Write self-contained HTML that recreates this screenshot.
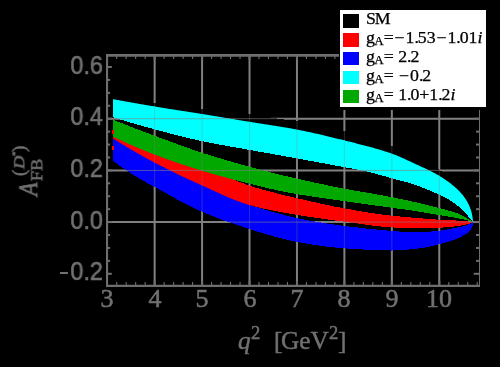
<!DOCTYPE html>
<html><head><meta charset="utf-8"><title>A_FB(D*) vs q^2</title>
<style>
html,body{margin:0;padding:0;background:#000;}
#c{position:relative;width:500px;height:367px;overflow:hidden;background:#000;}
.t{position:absolute;white-space:nowrap;line-height:1;margin:0;padding:0;will-change:transform;}
.yl{font-family:"Liberation Sans",sans-serif;font-size:25px;color:#707070;text-align:right;width:100px;transform:scaleX(0.94);transform-origin:100% 0;-webkit-text-stroke:0.6px #707070;}
.xl{font-family:"Liberation Serif",serif;font-size:26px;color:#707070;text-align:center;width:60px;-webkit-text-stroke:0.55px #707070;}
.ax{font-family:"Liberation Serif",serif;color:#707070;-webkit-text-stroke:0.5px #707070;}
.lg{font-family:"Liberation Serif",serif;font-size:15.7px;color:#000;-webkit-text-stroke:0.25px #000;transform:scaleX(1.135);transform-origin:0 0;}
.lg .d{margin-right:-1px;}
.lg .m{margin:0 0.8px;}
.lg .s{font-size:11.5px;position:relative;top:2.4px;margin-left:-0.6px;}
.sw{position:absolute;left:2.9px;width:16.3px;height:13.6px;}
</style></head><body>
<div id="c">
<svg width="500" height="367" viewBox="0 0 500 367" style="position:absolute;left:0;top:0">
<rect x="0" y="0" width="500" height="367" fill="#000"/>
<g stroke="#808080" stroke-width="2" fill="none">
<line x1="154.64" y1="55.5" x2="154.64" y2="285.6"/>
<line x1="202.08" y1="55.5" x2="202.08" y2="285.6"/>
<line x1="249.52" y1="55.5" x2="249.52" y2="285.6"/>
<line x1="296.96" y1="55.5" x2="296.96" y2="285.6"/>
<line x1="344.40" y1="55.5" x2="344.40" y2="285.6"/>
<line x1="391.84" y1="55.5" x2="391.84" y2="285.6"/>
<line x1="439.28" y1="55.5" x2="439.28" y2="285.6"/>
<line x1="107.1" y1="222.10" x2="479.7" y2="222.10"/>
<line x1="107.1" y1="170.40" x2="479.7" y2="170.40"/>
<line x1="107.1" y1="118.70" x2="479.7" y2="118.70"/>
</g>
<defs>
<mask id="mc" maskUnits="userSpaceOnUse" x="0" y="0" width="500" height="367"><polygon shape-rendering="crispEdges" fill="#fff" points="113.30,95.20 114.30,95.39 115.30,95.57 116.30,95.75 117.30,95.94 118.30,96.12 119.30,96.31 120.30,96.49 121.30,96.67 122.30,96.85 123.30,97.03 124.30,97.22 125.30,97.40 126.30,97.58 127.30,97.76 128.30,97.94 129.30,98.12 130.30,98.29 131.30,98.47 132.30,98.65 133.30,98.83 134.30,99.01 135.30,99.18 136.30,99.36 137.30,99.53 138.30,99.71 139.30,99.88 140.30,100.06 141.30,100.23 142.30,100.41 143.30,100.58 144.30,100.75 145.30,100.92 146.30,101.10 147.30,101.27 148.30,101.44 149.30,101.61 150.30,101.78 151.30,101.95 152.30,102.11 153.30,102.28 154.30,102.45 155.30,102.62 156.30,102.78 157.30,102.95 158.30,103.11 159.30,103.28 160.30,103.44 161.30,103.60 162.30,103.76 163.30,103.92 164.30,104.08 165.30,104.24 166.30,104.40 167.30,104.56 168.30,104.72 169.30,104.88 170.30,105.04 171.30,105.19 172.30,105.35 173.30,105.51 174.30,105.66 175.30,105.82 176.30,105.97 177.30,106.13 178.30,106.28 179.30,106.44 180.30,106.59 181.30,106.75 182.30,106.90 183.30,107.06 184.30,107.21 185.30,107.37 186.30,107.53 187.30,107.68 188.30,107.84 189.30,107.99 190.30,108.15 191.30,108.30 192.30,108.46 193.30,108.62 194.30,108.77 195.30,108.93 196.30,109.09 197.30,109.25 198.30,109.41 199.30,109.57 200.30,109.73 201.30,109.89 202.30,110.05 203.30,110.21 204.30,110.37 205.30,110.53 206.30,110.70 207.30,110.86 208.30,111.02 209.30,111.18 210.30,111.35 211.30,111.51 212.30,111.68 213.30,111.84 214.30,112.00 215.30,112.17 216.30,112.33 217.30,112.50 218.30,112.66 219.30,112.83 220.30,112.99 221.30,113.16 222.30,113.32 223.30,113.49 224.30,113.65 225.30,113.82 226.30,113.98 227.30,114.15 228.30,114.31 229.30,114.48 230.30,114.64 231.30,114.81 231.95,114.92 232.05,114.93 232.30,114.98 233.30,115.14 234.30,115.31 235.30,115.47 236.30,115.64 237.30,115.80 238.30,115.97 239.30,116.13 240.30,116.30 241.30,116.47 242.30,116.63 243.30,116.80 244.30,116.96 245.30,117.13 246.30,117.29 247.30,117.45 248.30,117.62 249.30,117.78 250.30,117.95 251.30,118.11 252.30,118.27 252.95,118.38 253.05,118.39 253.30,118.43 254.30,118.59 255.30,118.75 256.30,118.91 257.30,119.07 258.30,119.22 259.30,119.38 260.30,119.54 261.30,119.69 262.30,119.85 263.30,120.00 264.30,120.16 265.30,120.31 266.30,120.47 267.30,120.62 268.30,120.78 269.30,120.93 270.30,121.09 271.30,121.25 272.30,121.40 273.30,121.56 274.30,121.72 275.30,121.87 276.30,122.03 277.30,122.19 278.30,122.35 279.30,122.51 280.30,122.68 281.30,122.84 282.30,123.00 283.30,123.17 284.30,123.34 285.30,123.51 286.30,123.68 287.30,123.85 288.30,124.02 289.30,124.19 290.30,124.37 291.30,124.55 292.30,124.73 293.30,124.91 294.30,125.09 295.30,125.28 296.30,125.47 297.30,125.66 298.30,125.85 299.30,126.04 300.30,126.24 301.30,126.44 302.30,126.64 303.30,126.84 304.30,127.05 305.30,127.25 306.30,127.46 307.30,127.67 308.30,127.88 309.30,128.10 310.30,128.31 311.30,128.53 312.30,128.75 313.30,128.97 314.30,129.19 315.30,129.41 316.30,129.64 317.30,129.86 318.30,130.09 319.30,130.32 320.30,130.55 321.30,130.78 322.30,131.01 323.30,131.25 324.30,131.48 325.30,131.72 326.30,131.96 327.30,132.20 328.30,132.43 329.30,132.68 330.30,132.92 331.30,133.16 332.30,133.40 333.30,133.65 334.30,133.89 335.30,134.14 336.30,134.38 337.30,134.63 338.30,134.88 339.30,135.13 340.30,135.37 341.30,135.62 342.30,135.87 343.30,136.12 344.30,136.37 345.30,136.63 346.30,136.88 347.30,137.13 348.30,137.38 349.30,137.62 350.30,137.87 351.30,138.12 352.30,138.37 353.30,138.62 354.30,138.87 355.30,139.12 356.30,139.38 357.30,139.63 358.30,139.88 359.30,140.14 360.30,140.39 361.30,140.65 362.30,140.90 363.30,141.16 364.30,141.42 365.30,141.69 366.30,141.95 367.30,142.22 368.30,142.48 369.30,142.75 370.30,143.03 371.30,143.30 372.30,143.58 373.30,143.86 374.30,144.14 375.30,144.42 376.30,144.71 377.30,145.00 378.30,145.30 379.30,145.60 380.30,145.90 381.30,146.20 382.30,146.51 383.30,146.82 384.30,147.13 385.30,147.45 386.30,147.78 387.30,148.10 388.30,148.43 389.30,148.77 390.30,149.11 391.30,149.46 392.30,149.81 393.30,150.17 394.30,150.54 395.30,150.92 396.30,151.32 397.30,151.73 398.30,152.14 399.30,152.56 400.30,153.00 401.30,153.43 402.30,153.88 403.30,154.33 404.30,154.79 405.30,155.25 406.30,155.71 407.30,156.18 408.30,156.65 409.30,157.12 410.30,157.59 411.30,158.06 412.30,158.54 413.30,159.01 414.30,159.47 415.30,159.94 416.30,160.40 417.30,160.86 418.30,161.32 419.30,161.77 420.30,162.23 421.30,162.68 422.30,163.14 423.30,163.60 424.30,164.06 425.30,164.52 426.30,164.99 427.30,165.46 428.30,165.94 429.30,166.43 430.30,166.92 431.30,167.42 432.30,167.93 433.30,168.45 434.30,168.98 435.30,169.52 436.30,170.08 437.30,170.65 438.30,171.23 439.30,171.82 440.30,172.43 441.30,173.05 442.30,173.68 443.30,174.33 444.30,175.00 445.30,175.68 446.30,176.38 447.30,177.09 448.30,177.82 449.30,178.57 450.30,179.34 451.30,180.12 452.30,180.93 453.30,181.76 454.30,182.60 455.30,183.47 456.30,184.36 457.30,185.28 458.30,186.23 459.30,187.23 460.30,188.28 461.30,189.40 462.30,190.59 463.30,191.86 464.30,193.21 465.00,194.20 465.25,194.56 465.30,194.63 465.50,194.92 465.75,195.30 466.00,195.68 466.25,196.07 466.30,196.15 466.50,196.47 466.75,196.88 467.00,197.30 467.25,197.74 467.30,197.83 467.50,198.19 467.75,198.65 468.00,199.13 468.25,199.62 468.30,199.72 468.50,200.13 468.75,200.66 469.00,201.21 469.25,201.77 469.30,201.89 469.50,202.36 469.75,202.97 470.00,203.59 470.25,204.25 470.30,204.39 470.50,204.95 470.75,205.69 471.00,206.49 471.25,207.35 471.30,207.53 471.50,208.28 471.75,209.30 472.00,210.41 472.25,211.62 472.30,211.88 472.50,213.00 472.75,214.92 473.00,217.18 473.10,218.10 473.10,222.10 473.00,221.97 472.75,221.66 472.50,221.34 472.30,221.09 472.25,221.03 472.00,220.72 471.75,220.41 471.50,220.10 471.30,219.85 471.25,219.79 471.00,219.48 470.75,219.18 470.50,218.87 470.30,218.63 470.25,218.57 470.00,218.27 469.75,217.98 469.50,217.68 469.30,217.45 469.25,217.39 469.00,217.09 468.75,216.80 468.50,216.50 468.30,216.27 468.25,216.21 468.00,215.92 467.75,215.62 467.50,215.33 467.30,215.10 467.25,215.04 467.00,214.76 466.75,214.47 466.50,214.19 466.30,213.96 466.25,213.90 466.00,213.63 465.75,213.35 465.50,213.07 465.30,212.86 465.25,212.80 465.00,212.54 464.30,211.80 463.30,210.80 462.30,209.83 461.30,208.89 460.30,207.98 459.30,207.10 458.30,206.25 457.30,205.44 456.30,204.65 455.30,203.89 454.30,203.16 453.30,202.45 452.30,201.76 451.30,201.11 450.30,200.48 449.30,199.89 448.30,199.31 447.30,198.76 446.30,198.22 445.30,197.70 444.30,197.19 443.30,196.69 442.30,196.21 441.30,195.73 440.30,195.26 439.30,194.79 438.30,194.33 437.30,193.87 436.30,193.41 435.30,192.96 434.30,192.51 433.30,192.06 432.30,191.62 431.30,191.18 430.30,190.74 429.30,190.31 428.30,189.89 427.30,189.47 426.30,189.05 425.30,188.64 424.30,188.24 423.30,187.84 422.30,187.45 421.30,187.06 420.30,186.68 419.30,186.31 418.30,185.95 417.30,185.59 416.30,185.24 415.30,184.90 414.30,184.57 413.30,184.24 412.30,183.93 411.30,183.61 410.30,183.31 409.30,183.01 408.30,182.72 407.30,182.43 406.30,182.15 405.30,181.87 404.30,181.59 403.30,181.32 402.30,181.05 401.30,180.78 400.30,180.52 399.30,180.25 398.30,179.99 397.30,179.72 396.30,179.46 395.30,179.19 394.30,178.92 393.30,178.65 392.30,178.38 391.30,178.11 390.30,177.83 389.30,177.56 388.30,177.28 387.30,177.00 386.30,176.72 385.30,176.44 384.30,176.16 383.30,175.88 382.30,175.60 381.30,175.32 380.30,175.04 379.30,174.76 378.30,174.49 377.30,174.22 376.30,173.94 375.30,173.68 374.30,173.41 373.30,173.15 372.30,172.89 371.30,172.63 370.30,172.38 369.30,172.13 368.30,171.89 367.30,171.65 366.30,171.42 365.30,171.19 364.30,170.97 363.30,170.75 362.30,170.54 361.30,170.33 360.30,170.13 359.30,169.93 358.30,169.74 357.30,169.55 356.30,169.36 355.30,169.18 354.30,168.99 353.30,168.81 352.30,168.63 351.30,168.45 350.30,168.27 349.30,168.09 348.30,167.91 347.30,167.73 346.30,167.55 345.30,167.37 344.30,167.18 343.30,166.99 342.30,166.81 341.30,166.62 340.30,166.43 339.30,166.24 338.30,166.06 337.30,165.87 336.30,165.68 335.30,165.49 334.30,165.31 333.30,165.12 332.30,164.93 331.30,164.75 330.30,164.56 329.30,164.37 328.30,164.19 327.30,164.00 326.30,163.81 325.30,163.63 324.30,163.44 323.30,163.25 322.30,163.07 321.30,162.88 320.30,162.69 319.30,162.51 318.30,162.32 317.30,162.14 316.30,161.95 315.30,161.76 314.30,161.58 313.30,161.39 312.30,161.21 311.30,161.02 310.30,160.84 309.30,160.66 308.30,160.47 307.30,160.29 306.30,160.10 305.30,159.92 304.30,159.73 303.30,159.55 302.30,159.37 301.30,159.18 300.30,159.00 299.30,158.82 298.30,158.64 297.30,158.45 296.30,158.27 295.30,158.09 294.30,157.91 293.30,157.73 292.30,157.55 291.30,157.37 290.30,157.19 289.30,157.01 288.30,156.83 287.30,156.65 286.30,156.47 285.30,156.30 284.30,156.12 283.30,155.94 282.30,155.76 281.30,155.58 280.30,155.41 279.30,155.23 278.30,155.05 277.30,154.88 276.30,154.70 275.30,154.52 274.30,154.34 273.30,154.17 272.30,153.99 271.30,153.81 270.30,153.64 269.30,153.46 268.30,153.28 267.30,153.11 266.30,152.93 265.30,152.75 264.30,152.57 263.30,152.40 262.30,152.22 261.30,152.04 260.30,151.86 259.30,151.68 258.30,151.51 257.30,151.33 256.30,151.15 255.30,150.97 254.30,150.79 253.30,150.61 253.05,150.56 252.95,150.54 252.30,150.43 251.30,150.25 250.30,150.06 249.30,149.88 248.30,149.70 247.30,149.52 246.30,149.34 245.30,149.16 244.30,148.98 243.30,148.80 242.30,148.62 241.30,148.45 240.30,148.27 239.30,148.09 238.30,147.92 237.30,147.74 236.30,147.56 235.30,147.39 234.30,147.21 233.30,147.03 232.30,146.86 232.05,146.81 231.95,146.80 231.30,146.68 230.30,146.50 229.30,146.33 228.30,146.15 227.30,145.97 226.30,145.79 225.30,145.61 224.30,145.43 223.30,145.25 222.30,145.07 221.30,144.88 220.30,144.70 219.30,144.51 218.30,144.33 217.30,144.14 216.30,143.95 215.30,143.76 214.30,143.57 213.30,143.38 212.30,143.19 211.30,142.99 210.30,142.80 209.30,142.60 208.30,142.40 207.30,142.20 206.30,142.00 205.30,141.79 204.30,141.58 203.30,141.37 202.30,141.16 201.30,140.95 200.30,140.74 199.30,140.52 198.30,140.30 197.30,140.08 196.30,139.85 195.30,139.63 194.30,139.40 193.30,139.17 192.30,138.94 191.30,138.70 190.30,138.47 189.30,138.23 188.30,137.99 187.30,137.75 186.30,137.51 185.30,137.27 184.30,137.02 183.30,136.78 182.30,136.53 181.30,136.28 180.30,136.03 179.30,135.78 178.30,135.53 177.30,135.27 176.30,135.02 175.30,134.76 174.30,134.50 173.30,134.24 172.30,133.99 171.30,133.73 170.30,133.47 169.30,133.20 168.30,132.94 167.30,132.68 166.30,132.42 165.30,132.15 164.30,131.89 163.30,131.62 162.30,131.36 161.30,131.09 160.30,130.82 159.30,130.56 158.30,130.29 157.30,130.02 156.30,129.75 155.30,129.49 154.30,129.22 153.30,128.95 152.30,128.68 151.30,128.41 150.30,128.14 149.30,127.87 148.30,127.59 147.30,127.32 146.30,127.04 145.30,126.76 144.30,126.49 143.30,126.21 142.30,125.93 141.30,125.65 140.30,125.36 139.30,125.08 138.30,124.80 137.30,124.51 136.30,124.23 135.30,123.94 134.30,123.65 133.30,123.36 132.30,123.07 131.30,122.78 130.30,122.49 129.30,122.20 128.30,121.90 127.30,121.61 126.30,121.31 125.30,121.02 124.30,120.72 123.30,120.42 122.30,120.13 121.30,119.83 120.30,119.53 119.30,119.22 118.30,118.92 117.30,118.62 116.30,118.32 115.30,118.01 114.30,117.71 113.30,117.40"/></mask>
<mask id="mg" maskUnits="userSpaceOnUse" x="0" y="0" width="500" height="367"><polygon shape-rendering="crispEdges" fill="#fff" points="113.30,119.90 114.30,120.29 115.30,120.69 116.30,121.08 117.30,121.47 118.30,121.86 119.30,122.25 120.30,122.64 121.30,123.03 122.30,123.42 123.30,123.81 124.30,124.20 125.30,124.59 126.30,124.98 127.30,125.36 128.30,125.75 129.30,126.13 130.30,126.52 131.30,126.90 132.30,127.29 133.30,127.67 134.30,128.05 135.30,128.44 136.30,128.82 137.30,129.20 138.30,129.58 139.30,129.96 140.30,130.34 141.30,130.72 142.30,131.10 143.30,131.47 144.30,131.85 145.30,132.23 146.30,132.60 147.30,132.98 148.30,133.35 149.30,133.73 150.30,134.10 151.30,134.47 152.30,134.85 153.30,135.22 154.30,135.59 155.30,135.96 156.30,136.33 157.30,136.70 158.30,137.07 159.30,137.45 160.30,137.82 161.30,138.19 162.30,138.56 163.30,138.93 164.30,139.31 165.30,139.68 166.30,140.05 167.30,140.42 168.30,140.79 169.30,141.16 170.30,141.53 171.30,141.90 172.30,142.27 173.30,142.64 174.30,143.01 175.30,143.38 176.30,143.75 177.30,144.11 178.30,144.48 179.30,144.84 180.30,145.20 181.30,145.56 182.30,145.92 183.30,146.28 184.30,146.64 185.30,147.00 186.30,147.35 187.30,147.71 188.30,148.06 189.30,148.41 190.30,148.76 191.30,149.11 192.30,149.45 193.30,149.80 194.30,150.14 195.30,150.48 196.30,150.82 197.30,151.15 198.30,151.49 199.30,151.82 200.30,152.15 201.30,152.47 202.30,152.80 203.30,153.12 204.30,153.44 205.30,153.76 206.30,154.08 207.30,154.40 208.30,154.71 209.30,155.03 210.30,155.34 211.30,155.65 212.30,155.96 213.30,156.27 214.30,156.58 215.30,156.89 216.30,157.19 217.30,157.50 218.30,157.80 219.30,158.10 220.30,158.40 221.30,158.70 222.30,159.00 223.30,159.30 224.30,159.59 225.30,159.89 226.30,160.18 227.30,160.48 228.30,160.77 229.30,161.06 230.30,161.35 231.30,161.64 231.95,161.82 232.05,161.85 232.30,161.93 233.30,162.21 234.30,162.50 235.30,162.78 236.30,163.07 237.30,163.35 238.30,163.63 239.30,163.91 240.30,164.19 241.30,164.47 242.30,164.75 243.30,165.03 244.30,165.30 245.30,165.58 246.30,165.85 247.30,166.13 248.30,166.40 249.30,166.67 250.30,166.94 251.30,167.22 252.30,167.49 252.95,167.66 253.05,167.69 253.30,167.76 254.30,168.02 255.30,168.29 256.30,168.56 257.30,168.83 258.30,169.09 259.30,169.36 260.30,169.62 261.30,169.88 262.30,170.15 263.30,170.41 264.30,170.67 265.30,170.93 266.30,171.19 267.30,171.45 268.30,171.70 269.30,171.96 270.30,172.22 271.30,172.47 272.30,172.72 273.30,172.98 274.30,173.23 275.30,173.48 276.30,173.73 277.30,173.98 278.30,174.23 279.30,174.48 280.30,174.72 281.30,174.97 282.30,175.21 283.30,175.46 284.30,175.70 285.30,175.94 286.30,176.18 287.30,176.42 288.30,176.66 289.30,176.90 290.30,177.14 291.30,177.37 292.30,177.61 293.30,177.84 294.30,178.08 295.30,178.31 296.30,178.54 297.30,178.77 298.30,179.00 299.30,179.23 300.30,179.45 301.30,179.68 302.30,179.91 303.30,180.13 304.30,180.35 305.30,180.58 306.30,180.80 307.30,181.02 308.30,181.24 309.30,181.46 310.30,181.68 311.30,181.90 312.30,182.12 313.30,182.33 314.30,182.55 315.30,182.77 316.30,182.98 317.30,183.19 318.30,183.41 319.30,183.62 320.30,183.83 321.30,184.04 322.30,184.25 323.30,184.46 324.30,184.67 325.30,184.88 326.30,185.08 327.30,185.29 328.30,185.49 329.30,185.70 330.30,185.90 331.30,186.11 332.30,186.31 333.30,186.51 334.30,186.71 335.30,186.91 336.30,187.11 337.30,187.31 338.30,187.51 339.30,187.70 340.30,187.90 341.30,188.10 342.30,188.29 343.30,188.49 344.30,188.68 345.30,188.87 346.30,189.06 347.30,189.25 348.30,189.44 349.30,189.63 350.30,189.81 351.30,189.99 352.30,190.17 353.30,190.35 354.30,190.53 355.30,190.71 356.30,190.88 357.30,191.06 358.30,191.23 359.30,191.41 360.30,191.58 361.30,191.75 362.30,191.93 363.30,192.10 364.30,192.27 365.30,192.44 366.30,192.61 367.30,192.78 368.30,192.95 369.30,193.12 370.30,193.29 371.30,193.46 372.30,193.63 373.30,193.80 374.30,193.98 375.30,194.15 376.30,194.32 377.30,194.50 378.30,194.67 379.30,194.85 380.30,195.02 381.30,195.20 382.30,195.38 383.30,195.56 384.30,195.74 385.30,195.93 386.30,196.11 387.30,196.30 388.30,196.49 389.30,196.68 390.30,196.87 391.30,197.06 392.30,197.26 393.30,197.46 394.30,197.66 395.30,197.86 396.30,198.06 397.30,198.26 398.30,198.47 399.30,198.68 400.30,198.88 401.30,199.09 402.30,199.30 403.30,199.52 404.30,199.73 405.30,199.95 406.30,200.16 407.30,200.38 408.30,200.60 409.30,200.82 410.30,201.04 411.30,201.27 412.30,201.49 413.30,201.71 414.30,201.94 415.30,202.17 416.30,202.40 417.30,202.63 418.30,202.86 419.30,203.09 420.30,203.32 421.30,203.55 422.30,203.79 423.30,204.03 424.30,204.26 425.30,204.50 426.30,204.74 427.30,204.99 428.30,205.23 429.30,205.48 430.30,205.72 431.30,205.97 432.30,206.23 433.30,206.48 434.30,206.74 435.30,207.00 436.30,207.26 437.30,207.52 438.30,207.79 439.30,208.05 440.30,208.32 441.30,208.59 442.30,208.85 443.30,209.11 444.30,209.38 445.30,209.64 446.30,209.92 447.30,210.19 448.30,210.47 449.30,210.76 450.30,211.05 451.30,211.35 452.30,211.67 453.30,211.99 454.30,212.33 455.30,212.67 456.30,213.04 457.30,213.42 458.30,213.83 459.30,214.29 460.30,214.78 461.30,215.29 462.30,215.81 463.30,216.33 464.30,216.86 465.00,217.22 465.25,217.35 465.30,217.38 465.50,217.48 465.75,217.61 466.00,217.74 466.25,217.87 466.30,217.90 466.50,218.01 466.75,218.14 467.00,218.27 467.25,218.41 467.30,218.44 467.50,218.54 467.75,218.68 468.00,218.82 468.25,218.96 468.30,218.99 468.50,219.10 468.75,219.24 469.00,219.39 469.25,219.53 469.30,219.56 469.50,219.68 469.75,219.83 470.00,219.98 470.25,220.13 470.30,220.16 470.50,220.28 470.75,220.44 471.00,220.60 471.25,220.76 471.30,220.80 471.50,220.93 471.75,221.11 472.00,221.28 472.25,221.47 472.30,221.50 472.50,221.65 472.75,221.84 473.00,222.02 473.10,222.10 473.10,222.10 473.00,222.07 472.75,221.99 472.50,221.92 472.30,221.86 472.25,221.84 472.00,221.76 471.75,221.69 471.50,221.62 471.30,221.56 471.25,221.54 471.00,221.47 470.75,221.39 470.50,221.32 470.30,221.26 470.25,221.25 470.00,221.18 469.75,221.11 469.50,221.04 469.30,220.98 469.25,220.97 469.00,220.90 468.75,220.83 468.50,220.76 468.30,220.70 468.25,220.69 468.00,220.62 467.75,220.55 467.50,220.49 467.30,220.43 467.25,220.42 467.00,220.35 466.75,220.29 466.50,220.22 466.30,220.17 466.25,220.16 466.00,220.09 465.75,220.03 465.50,219.97 465.30,219.92 465.25,219.91 465.00,219.84 464.30,219.67 463.30,219.43 462.30,219.20 461.30,218.98 460.30,218.77 459.30,218.56 458.30,218.36 457.30,218.16 456.30,217.96 455.30,217.78 454.30,217.59 453.30,217.41 452.30,217.23 451.30,217.05 450.30,216.88 449.30,216.71 448.30,216.54 447.30,216.37 446.30,216.20 445.30,216.03 444.30,215.87 443.30,215.70 442.30,215.54 441.30,215.37 440.30,215.20 439.30,215.03 438.30,214.86 437.30,214.69 436.30,214.52 435.30,214.35 434.30,214.18 433.30,214.01 432.30,213.84 431.30,213.67 430.30,213.50 429.30,213.33 428.30,213.16 427.30,212.99 426.30,212.82 425.30,212.65 424.30,212.48 423.30,212.32 422.30,212.15 421.30,211.99 420.30,211.83 419.30,211.67 418.30,211.51 417.30,211.35 416.30,211.20 415.30,211.05 414.30,210.89 413.30,210.75 412.30,210.60 411.30,210.45 410.30,210.31 409.30,210.17 408.30,210.03 407.30,209.89 406.30,209.75 405.30,209.61 404.30,209.47 403.30,209.34 402.30,209.20 401.30,209.07 400.30,208.93 399.30,208.80 398.30,208.66 397.30,208.53 396.30,208.39 395.30,208.25 394.30,208.12 393.30,207.98 392.30,207.84 391.30,207.70 390.30,207.56 389.30,207.43 388.30,207.29 387.30,207.15 386.30,207.01 385.30,206.87 384.30,206.74 383.30,206.60 382.30,206.46 381.30,206.32 380.30,206.19 379.30,206.05 378.30,205.91 377.30,205.78 376.30,205.64 375.30,205.50 374.30,205.37 373.30,205.23 372.30,205.09 371.30,204.96 370.30,204.82 369.30,204.68 368.30,204.54 367.30,204.41 366.30,204.27 365.30,204.13 364.30,203.99 363.30,203.86 362.30,203.72 361.30,203.58 360.30,203.44 359.30,203.30 358.30,203.16 357.30,203.02 356.30,202.89 355.30,202.75 354.30,202.61 353.30,202.47 352.30,202.32 351.30,202.18 350.30,202.04 349.30,201.90 348.30,201.76 347.30,201.62 346.30,201.47 345.30,201.33 344.30,201.19 343.30,201.04 342.30,200.90 341.30,200.75 340.30,200.61 339.30,200.47 338.30,200.33 337.30,200.18 336.30,200.04 335.30,199.90 334.30,199.75 333.30,199.61 332.30,199.47 331.30,199.33 330.30,199.18 329.30,199.04 328.30,198.90 327.30,198.75 326.30,198.61 325.30,198.46 324.30,198.32 323.30,198.17 322.30,198.03 321.30,197.88 320.30,197.73 319.30,197.59 318.30,197.44 317.30,197.29 316.30,197.14 315.30,196.99 314.30,196.84 313.30,196.69 312.30,196.54 311.30,196.39 310.30,196.23 309.30,196.08 308.30,195.93 307.30,195.77 306.30,195.61 305.30,195.45 304.30,195.30 303.30,195.14 302.30,194.97 301.30,194.81 300.30,194.65 299.30,194.48 298.30,194.32 297.30,194.15 296.30,193.98 295.30,193.81 294.30,193.64 293.30,193.46 292.30,193.28 291.30,193.10 290.30,192.92 289.30,192.74 288.30,192.55 287.30,192.35 286.30,192.16 285.30,191.96 284.30,191.76 283.30,191.55 282.30,191.35 281.30,191.14 280.30,190.93 279.30,190.71 278.30,190.50 277.30,190.28 276.30,190.06 275.30,189.83 274.30,189.61 273.30,189.38 272.30,189.16 271.30,188.93 270.30,188.70 269.30,188.46 268.30,188.23 267.30,187.99 266.30,187.75 265.30,187.52 264.30,187.28 263.30,187.03 262.30,186.79 261.30,186.55 260.30,186.30 259.30,186.06 258.30,185.81 257.30,185.57 256.30,185.32 255.30,185.07 254.30,184.82 253.30,184.57 253.05,184.51 252.95,184.49 252.30,184.32 251.30,184.08 250.30,183.83 249.30,183.57 248.30,183.32 247.30,183.07 246.30,182.82 245.30,182.57 244.30,182.32 243.30,182.06 242.30,181.81 241.30,181.55 240.30,181.30 239.30,181.04 238.30,180.78 237.30,180.52 236.30,180.26 235.30,180.00 234.30,179.74 233.30,179.48 232.30,179.22 232.05,179.15 231.95,182.13 231.30,181.95 230.30,181.69 229.30,181.42 228.30,181.16 227.30,180.89 226.30,180.62 225.30,180.35 224.30,180.08 223.30,179.81 222.30,179.53 221.30,179.26 220.30,178.98 219.30,178.71 218.30,178.43 217.30,178.15 216.30,177.87 215.30,177.59 214.30,177.30 213.30,177.02 212.30,176.73 211.30,176.44 210.30,176.15 209.30,175.86 208.30,175.57 207.30,175.28 206.30,174.98 205.30,174.69 204.30,174.39 203.30,174.09 202.30,173.79 201.30,173.49 200.30,173.18 199.30,172.88 198.30,172.57 197.30,172.26 196.30,171.95 195.30,171.64 194.30,171.33 193.30,171.02 192.30,170.70 191.30,170.38 190.30,170.06 189.30,169.74 188.30,169.42 187.30,169.10 186.30,168.77 185.30,168.45 184.30,168.12 183.30,167.79 182.30,167.46 181.30,167.13 180.30,166.79 179.30,166.45 178.30,166.12 177.30,165.78 176.30,165.44 175.30,165.09 174.30,164.75 173.30,164.40 172.30,164.05 171.30,163.70 170.30,163.35 169.30,163.00 168.30,162.64 167.30,162.29 166.30,161.93 165.30,161.57 164.30,161.21 163.30,160.84 162.30,160.48 161.30,160.11 160.30,159.74 159.30,159.37 158.30,159.00 157.30,158.62 156.30,158.24 155.30,157.87 154.30,157.49 153.30,157.10 152.30,156.72 151.30,156.33 150.30,155.94 149.30,155.54 148.30,155.15 147.30,154.75 146.30,154.34 145.30,153.94 144.30,153.53 143.30,153.12 142.30,152.71 141.30,152.30 140.30,151.88 139.30,151.46 138.30,151.04 137.30,150.62 136.30,150.19 135.30,149.76 134.30,149.33 133.30,148.90 132.30,148.46 131.30,148.02 130.30,147.58 129.30,147.14 128.30,146.70 127.30,146.25 126.30,145.80 125.30,145.35 124.30,144.90 123.30,144.45 122.30,143.99 121.30,143.53 120.30,143.07 119.30,142.61 118.30,142.15 117.30,141.68 116.30,141.21 115.30,140.74 114.30,140.27 113.30,139.80"/></mask>
<mask id="mr" maskUnits="userSpaceOnUse" x="0" y="0" width="500" height="367"><polygon shape-rendering="crispEdges" fill="#fff" points="113.30,131.00 114.30,131.55 115.30,132.09 116.30,132.63 117.30,133.17 118.30,133.71 119.30,134.24 120.30,134.77 121.30,135.30 122.30,135.83 123.30,136.35 124.30,136.87 125.30,137.39 126.30,137.90 127.30,138.41 128.30,138.92 129.30,139.42 130.30,139.93 131.30,140.42 132.30,140.92 133.30,141.41 134.30,141.90 135.30,142.38 136.30,142.87 137.30,143.34 138.30,143.82 139.30,144.29 140.30,144.76 141.30,145.22 142.30,145.68 143.30,146.13 144.30,146.59 145.30,147.03 146.30,147.48 147.30,147.92 148.30,148.35 149.30,148.78 150.30,149.21 151.30,149.63 152.30,150.05 153.30,150.47 154.30,150.88 155.30,151.28 156.30,151.68 157.30,152.08 158.30,152.47 159.30,152.85 160.30,153.23 161.30,153.60 162.30,153.97 163.30,154.34 164.30,154.70 165.30,155.06 166.30,155.41 167.30,155.76 168.30,156.11 169.30,156.46 170.30,156.80 171.30,157.14 172.30,157.48 173.30,157.81 174.30,158.15 175.30,158.48 176.30,158.81 177.30,159.14 178.30,159.47 179.30,159.79 180.30,160.12 181.30,160.45 182.30,160.77 183.30,161.10 184.30,161.43 185.30,161.76 186.30,162.08 187.30,162.41 188.30,162.74 189.30,163.07 190.30,163.41 191.30,163.74 192.30,164.08 193.30,164.42 194.30,164.76 195.30,165.11 196.30,165.45 197.30,165.80 198.30,166.16 199.30,166.52 200.30,166.88 201.30,167.24 202.30,167.61 203.30,167.98 204.30,168.36 205.30,168.74 206.30,169.12 207.30,169.51 208.30,169.90 209.30,170.29 210.30,170.68 211.30,171.07 212.30,171.46 213.30,171.86 214.30,172.26 215.30,172.65 216.30,173.05 217.30,173.44 218.30,173.84 219.30,174.24 220.30,174.63 221.30,175.02 222.30,175.42 223.30,175.81 224.30,176.19 225.30,176.58 226.30,176.96 227.30,177.35 228.30,177.73 229.30,178.11 230.30,178.49 231.30,178.87 231.95,179.12 232.05,179.16 232.30,179.25 233.30,179.63 234.30,180.01 235.30,180.38 236.30,180.76 237.30,181.13 238.30,181.51 239.30,181.88 240.30,182.25 241.30,182.63 242.30,183.01 243.30,183.39 244.30,183.77 245.30,184.15 246.30,184.52 247.30,184.88 248.30,185.23 249.30,185.57 250.30,185.89 251.30,186.21 252.30,186.52 252.95,186.73 253.05,186.76 253.30,186.83 254.30,187.14 255.30,187.45 256.30,187.75 257.30,188.04 258.30,188.34 259.30,188.63 260.30,188.92 261.30,189.20 262.30,189.49 263.30,189.77 264.30,190.04 265.30,190.32 266.30,190.59 267.30,190.86 268.30,191.13 269.30,191.40 270.30,191.66 271.30,191.92 272.30,192.18 273.30,192.44 274.30,192.70 275.30,192.96 276.30,193.21 277.30,193.47 278.30,193.72 279.30,193.97 280.30,194.22 281.30,194.48 282.30,194.73 283.30,194.98 284.30,195.23 285.30,195.47 286.30,195.72 287.30,195.96 288.30,196.20 289.30,196.44 290.30,196.67 291.30,196.90 292.30,197.13 293.30,197.36 294.30,197.59 295.30,197.82 296.30,198.04 297.30,198.27 298.30,198.49 299.30,198.72 300.30,198.95 301.30,199.18 302.30,199.40 303.30,199.63 304.30,199.86 305.30,200.09 306.30,200.32 307.30,200.55 308.30,200.77 309.30,201.00 310.30,201.23 311.30,201.46 312.30,201.69 313.30,201.91 314.30,202.14 315.30,202.37 316.30,202.59 317.30,202.82 318.30,203.04 319.30,203.26 320.30,203.49 321.30,203.71 322.30,203.93 323.30,204.15 324.30,204.37 325.30,204.58 326.30,204.80 327.30,205.01 328.30,205.23 329.30,205.44 330.30,205.65 331.30,205.86 332.30,206.06 333.30,206.27 334.30,206.47 335.30,206.67 336.30,206.87 337.30,207.07 338.30,207.26 339.30,207.45 340.30,207.64 341.30,207.83 342.30,208.02 343.30,208.20 344.30,208.38 345.30,208.56 346.30,208.74 347.30,208.92 348.30,209.10 349.30,209.27 350.30,209.45 351.30,209.62 352.30,209.80 353.30,209.97 354.30,210.15 355.30,210.32 356.30,210.49 357.30,210.66 358.30,210.83 359.30,211.00 360.30,211.17 361.30,211.34 362.30,211.50 363.30,211.67 364.30,211.83 365.30,211.99 366.30,212.15 367.30,212.31 368.30,212.47 369.30,212.63 370.30,212.78 371.30,212.94 372.30,213.09 373.30,213.24 374.30,213.39 375.30,213.53 376.30,213.68 377.30,213.82 378.30,213.96 379.30,214.10 380.30,214.24 381.30,214.38 382.30,214.51 383.30,214.64 384.30,214.77 385.30,214.90 386.30,215.03 387.30,215.15 388.30,215.27 389.30,215.39 390.30,215.51 391.30,215.62 392.30,215.73 393.30,215.84 394.30,215.95 395.30,216.05 396.30,216.15 397.30,216.25 398.30,216.35 399.30,216.44 400.30,216.54 401.30,216.63 402.30,216.72 403.30,216.81 404.30,216.90 405.30,216.98 406.30,217.07 407.30,217.15 408.30,217.24 409.30,217.32 410.30,217.41 411.30,217.49 412.30,217.57 413.30,217.66 414.30,217.74 415.30,217.83 416.30,217.91 417.30,218.00 418.30,218.08 419.30,218.17 420.30,218.25 421.30,218.34 422.30,218.42 423.30,218.51 424.30,218.59 425.30,218.68 426.30,218.76 427.30,218.84 428.30,218.92 429.30,219.00 430.30,219.08 431.30,219.16 432.30,219.24 433.30,219.31 434.30,219.38 435.30,219.45 436.30,219.52 437.30,219.59 438.30,219.65 439.30,219.71 440.30,219.77 441.30,219.82 442.30,219.88 443.30,219.93 444.30,219.97 445.30,220.02 446.30,220.06 447.30,220.11 448.30,220.15 449.30,220.19 450.30,220.24 451.30,220.29 452.30,220.33 453.30,220.38 454.30,220.44 455.30,220.49 456.30,220.56 457.30,220.62 458.30,220.69 459.30,220.76 460.30,220.84 461.30,220.92 462.30,221.00 463.30,221.09 464.30,221.18 465.00,221.25 465.25,221.27 465.30,221.28 465.50,221.30 465.75,221.32 466.00,221.35 466.25,221.37 466.30,221.37 466.50,221.39 466.75,221.42 467.00,221.44 467.25,221.47 467.30,221.47 467.50,221.49 467.75,221.52 468.00,221.55 468.25,221.57 468.30,221.58 468.50,221.60 468.75,221.62 469.00,221.65 469.25,221.68 469.30,221.68 469.50,221.70 469.75,221.73 470.00,221.76 470.25,221.78 470.30,221.79 470.50,221.81 470.75,221.84 471.00,221.87 471.25,221.89 471.30,221.90 471.50,221.92 471.75,221.95 472.00,221.98 472.25,222.00 472.30,222.01 472.50,222.03 472.75,222.06 473.00,222.09 473.10,222.10 473.10,222.10 473.00,222.14 472.75,222.25 472.50,222.36 472.30,222.44 472.25,222.46 472.00,222.57 471.75,222.67 471.50,222.77 471.30,222.85 471.25,222.87 471.00,222.97 470.75,223.07 470.50,223.17 470.30,223.25 470.25,223.26 470.00,223.36 469.75,223.45 469.50,223.53 469.30,223.60 469.25,223.62 469.00,223.70 468.75,223.78 468.50,223.86 468.30,223.92 468.25,223.93 468.00,224.00 467.75,224.07 467.50,224.13 467.30,224.19 467.25,224.20 467.00,224.26 466.75,224.33 466.50,224.39 466.30,224.44 466.25,224.46 466.00,224.52 465.75,224.58 465.50,224.64 465.30,224.69 465.25,224.70 465.00,224.76 464.30,224.92 463.30,225.14 462.30,225.34 461.30,225.54 460.30,225.71 459.30,225.88 458.30,226.03 457.30,226.16 456.30,226.28 455.30,226.40 454.30,226.51 453.30,226.62 452.30,226.73 451.30,226.83 450.30,226.92 449.30,227.02 448.30,227.10 447.30,227.19 446.30,227.26 445.30,227.34 444.30,227.41 443.30,227.47 442.30,227.54 441.30,227.59 440.30,227.64 439.30,227.69 438.30,227.74 437.30,227.78 436.30,227.82 435.30,227.87 434.30,227.91 433.30,227.95 432.30,227.99 431.30,228.03 430.30,228.07 429.30,228.11 428.30,228.14 427.30,228.17 426.30,228.21 425.30,228.24 424.30,228.27 423.30,228.29 422.30,228.31 421.30,228.34 420.30,228.35 419.30,228.37 418.30,228.38 417.30,228.39 416.30,228.40 415.30,228.40 414.30,228.40 413.30,228.39 412.30,228.38 411.30,228.36 410.30,228.34 409.30,228.31 408.30,228.28 407.30,228.24 406.30,228.20 405.30,228.16 404.30,228.11 403.30,228.06 402.30,228.01 401.30,227.96 400.30,227.90 399.30,227.84 398.30,227.78 397.30,227.72 396.30,227.66 395.30,227.60 394.30,227.54 393.30,227.48 392.30,227.42 391.30,227.36 390.30,227.29 389.30,227.22 388.30,227.15 387.30,227.07 386.30,226.99 385.30,226.90 384.30,226.81 383.30,226.72 382.30,226.62 381.30,226.52 380.30,226.42 379.30,226.31 378.30,226.20 377.30,226.09 376.30,225.98 375.30,225.86 374.30,225.74 373.30,225.62 372.30,225.49 371.30,225.37 370.30,225.24 369.30,225.11 368.30,224.98 367.30,224.85 366.30,224.71 365.30,224.58 364.30,224.44 363.30,224.31 362.30,224.17 361.30,224.03 360.30,223.89 359.30,223.75 358.30,223.61 357.30,223.47 356.30,223.33 355.30,223.19 354.30,223.05 353.30,222.91 352.30,222.77 351.30,222.63 350.30,222.49 349.30,222.36 348.30,222.22 347.30,222.08 346.30,221.95 345.30,221.82 344.30,221.69 343.30,221.56 342.30,221.43 341.30,221.30 340.30,221.16 339.30,221.03 338.30,220.90 337.30,220.77 336.30,220.64 335.30,220.51 334.30,220.38 333.30,220.24 332.30,220.11 331.30,219.98 330.30,219.84 329.30,219.71 328.30,219.58 327.30,219.44 326.30,219.31 325.30,219.17 324.30,219.03 323.30,218.89 322.30,218.76 321.30,218.62 320.30,218.48 319.30,218.34 318.30,218.19 317.30,218.05 316.30,217.91 315.30,217.76 314.30,217.62 313.30,217.47 312.30,217.32 311.30,217.17 310.30,217.02 309.30,216.87 308.30,216.72 307.30,216.57 306.30,216.41 305.30,216.25 304.30,216.10 303.30,215.94 302.30,215.78 301.30,215.62 300.30,215.45 299.30,215.29 298.30,215.12 297.30,214.95 296.30,214.78 295.30,214.61 294.30,214.44 293.30,214.27 292.30,214.10 291.30,213.92 290.30,213.75 289.30,213.58 288.30,213.40 287.30,213.23 286.30,213.05 285.30,212.87 284.30,212.69 283.30,212.51 282.30,212.33 281.30,212.14 280.30,211.96 279.30,211.77 278.30,211.58 277.30,211.39 276.30,211.20 275.30,211.00 274.30,210.81 273.30,210.61 272.30,210.41 271.30,210.20 270.30,210.00 269.30,209.79 268.30,209.58 267.30,209.36 266.30,209.15 265.30,208.93 264.30,208.71 263.30,208.48 262.30,208.25 261.30,208.02 260.30,207.79 259.30,207.55 258.30,207.31 257.30,207.06 256.30,206.82 255.30,206.56 254.30,206.31 253.30,206.05 253.05,205.98 252.95,208.96 252.30,208.79 251.30,208.52 250.30,208.25 249.30,207.97 248.30,207.69 247.30,207.40 246.30,207.09 245.30,206.78 244.30,206.46 243.30,206.13 242.30,205.79 241.30,205.45 240.30,205.09 239.30,204.73 238.30,204.36 237.30,203.99 236.30,203.60 235.30,203.21 234.30,202.82 233.30,202.41 232.30,202.01 232.05,201.90 231.95,201.86 231.30,201.59 230.30,201.18 229.30,200.75 228.30,200.33 227.30,199.89 226.30,199.46 225.30,199.02 224.30,198.58 223.30,198.13 222.30,197.68 221.30,197.23 220.30,196.78 219.30,196.32 218.30,195.86 217.30,195.40 216.30,194.94 215.30,194.48 214.30,194.02 213.30,193.56 212.30,193.10 211.30,192.63 210.30,192.17 209.30,191.71 208.30,191.25 207.30,190.79 206.30,190.34 205.30,189.88 204.30,189.43 203.30,188.98 202.30,188.53 201.30,188.09 200.30,187.64 199.30,187.20 198.30,186.75 197.30,186.30 196.30,185.85 195.30,185.39 194.30,184.94 193.30,184.48 192.30,184.03 191.30,183.57 190.30,183.11 189.30,182.65 188.30,182.19 187.30,181.73 186.30,181.26 185.30,180.79 184.30,180.33 183.30,179.86 182.30,179.39 181.30,178.91 180.30,178.44 179.30,177.96 178.30,177.48 177.30,177.00 176.30,176.52 175.30,176.04 174.30,175.56 173.30,175.07 172.30,174.58 171.30,174.09 170.30,173.60 169.30,173.10 168.30,172.61 167.30,172.11 166.30,171.61 165.30,171.11 164.30,170.60 163.30,170.10 162.30,169.59 161.30,169.08 160.30,168.56 159.30,168.05 158.30,167.53 157.30,167.01 156.30,166.49 155.30,165.97 154.30,165.44 153.30,164.91 152.30,164.38 151.30,163.85 150.30,163.31 149.30,162.77 148.30,162.23 147.30,161.68 146.30,161.13 145.30,160.58 144.30,160.03 143.30,159.47 142.30,158.92 141.30,158.35 140.30,157.79 139.30,157.22 138.30,156.66 137.30,156.09 136.30,155.51 135.30,154.94 134.30,154.36 133.30,153.78 132.30,153.19 131.30,152.61 130.30,152.02 129.30,151.43 128.30,150.84 127.30,150.24 126.30,149.65 125.30,149.05 124.30,148.45 123.30,147.84 122.30,147.24 121.30,146.63 120.30,146.02 119.30,145.41 118.30,144.80 117.30,144.18 116.30,143.56 115.30,142.94 114.30,142.32 113.30,141.70"/></mask>
</defs>
<g stroke="none">
<polygon shape-rendering="crispEdges" fill="#000" points="113.30,97.50 114.30,97.63 115.30,97.76 116.30,97.89 117.30,98.02 118.30,98.15 119.30,98.27 120.30,98.40 121.30,98.53 122.30,98.66 123.30,98.79 124.30,98.92 125.30,99.05 126.30,99.18 127.30,99.30 128.30,99.43 129.30,99.56 130.30,99.69 131.30,99.82 132.30,99.95 133.30,100.08 134.30,100.20 135.30,100.33 136.30,100.46 137.30,100.59 138.30,100.72 139.30,100.84 140.30,100.97 141.30,101.10 142.30,101.23 143.30,101.36 144.30,101.48 145.30,101.61 146.30,101.74 147.30,101.87 148.30,102.00 149.30,102.12 150.30,102.25 151.30,102.38 152.30,102.51 153.30,102.63 154.30,102.76 155.30,102.89 156.30,103.02 157.30,103.15 158.30,103.27 159.30,103.40 160.30,103.53 161.30,103.66 162.30,103.79 163.30,103.92 164.30,104.05 165.30,104.17 166.30,104.30 167.30,104.43 168.30,104.56 169.30,104.69 170.30,104.82 171.30,104.95 172.30,105.08 173.30,105.21 174.30,105.34 175.30,105.47 176.30,105.59 177.30,105.72 178.30,105.85 179.30,105.98 180.30,106.11 181.30,106.24 182.30,106.36 183.30,106.49 184.30,106.62 185.30,106.74 186.30,106.87 187.30,107.00 188.30,107.12 189.30,107.25 190.30,107.37 191.30,107.50 192.30,107.62 193.30,107.75 194.30,107.87 195.30,107.99 196.30,108.11 197.30,108.24 198.30,108.36 199.30,108.48 200.30,108.60 201.30,108.72 202.30,108.84 203.30,108.95 204.30,109.07 205.30,109.18 206.30,109.30 207.30,109.41 208.30,109.52 209.30,109.63 210.30,109.74 211.30,109.85 212.30,109.96 213.30,110.06 214.30,110.17 215.30,110.28 216.30,110.38 217.30,110.49 218.30,110.59 219.30,110.70 220.30,110.80 221.30,110.90 222.30,111.01 223.30,111.11 224.30,111.22 225.30,111.32 226.30,111.42 227.30,111.53 228.30,111.64 229.30,111.74 230.30,111.85 231.30,111.96 231.95,112.03 232.05,112.04 232.30,112.06 233.30,112.17 234.30,112.28 235.30,112.39 236.30,112.50 237.30,112.62 238.30,112.73 239.30,112.85 240.30,112.96 241.30,113.08 242.30,113.20 243.30,113.32 244.30,113.44 245.30,113.57 246.30,113.70 247.30,113.82 248.30,113.95 249.30,114.09 250.30,114.22 251.30,114.36 252.30,114.51 252.95,114.60 253.05,114.62 253.30,114.65 254.30,114.80 255.30,114.96 256.30,115.11 257.30,115.27 258.30,115.43 259.30,115.59 260.30,115.76 261.30,115.92 262.30,116.09 263.30,116.25 264.30,116.42 265.30,116.58 266.30,116.75 267.30,116.91 268.30,117.07 269.30,117.23 270.30,117.39 271.30,117.55 272.30,117.70 273.30,117.86 274.30,118.02 275.30,118.18 276.30,118.33 277.30,118.49 278.30,118.65 279.30,118.80 280.30,118.96 281.30,119.11 282.30,119.25 283.30,119.40 284.30,119.54 285.30,119.68 286.30,119.81 287.30,119.94 288.30,120.06 289.30,120.18 290.30,120.30 291.30,120.43 292.30,120.55 293.30,120.68 294.30,120.81 295.30,120.95 296.30,121.09 297.30,121.25 298.30,121.40 299.30,121.56 300.30,121.72 301.30,121.89 302.30,122.06 303.30,122.23 304.30,122.40 305.30,122.57 306.30,122.75 307.30,122.93 308.30,123.12 309.30,123.30 310.30,123.49 311.30,123.68 312.30,123.87 313.30,124.07 314.30,124.26 315.30,124.46 316.30,124.67 317.30,124.87 318.30,125.08 319.30,125.28 320.30,125.49 321.30,125.71 322.30,125.92 323.30,126.14 324.30,126.36 325.30,126.58 326.30,126.80 327.30,127.02 328.30,127.25 329.30,127.47 330.30,127.70 331.30,127.93 332.30,128.17 333.30,128.40 334.30,128.64 335.30,128.87 336.30,129.11 337.30,129.35 338.30,129.60 339.30,129.84 340.30,130.08 341.30,130.33 342.30,130.58 343.30,130.83 344.30,131.07 345.30,131.33 346.30,131.58 347.30,131.84 348.30,132.10 349.30,132.36 350.30,132.62 351.30,132.89 352.30,133.16 353.30,133.43 354.30,133.70 355.30,133.98 356.30,134.26 357.30,134.54 358.30,134.82 359.30,135.11 360.30,135.40 361.30,135.69 362.30,135.99 363.30,136.29 364.30,136.59 365.30,136.89 366.30,137.19 367.30,137.50 368.30,137.81 369.30,138.13 370.30,138.44 371.30,138.76 372.30,139.08 373.30,139.41 374.30,139.74 375.30,140.07 376.30,140.40 377.30,140.73 378.30,141.07 379.30,141.41 380.30,141.76 381.30,142.11 382.30,142.46 383.30,142.81 384.30,143.16 385.30,143.52 386.30,143.88 387.30,144.25 388.30,144.62 389.30,144.99 390.30,145.36 391.30,145.73 392.30,146.11 393.30,146.50 394.30,146.90 395.30,147.30 396.30,147.72 397.30,148.14 398.30,148.57 399.30,149.00 400.30,149.45 401.30,149.90 402.30,150.35 403.30,150.81 404.30,151.28 405.30,151.75 406.30,152.23 407.30,152.71 408.30,153.19 409.30,153.68 410.30,154.17 411.30,154.66 412.30,155.16 413.30,155.65 414.30,156.15 415.30,156.65 416.30,157.15 417.30,157.65 418.30,158.15 419.30,158.65 420.30,159.16 421.30,159.67 422.30,160.18 423.30,160.70 424.30,161.22 425.30,161.74 426.30,162.27 427.30,162.81 428.30,163.35 429.30,163.91 430.30,164.46 431.30,165.03 432.30,165.61 433.30,166.19 434.30,166.79 435.30,167.39 436.30,168.01 437.30,168.64 438.30,169.28 439.30,169.93 440.30,170.59 441.30,171.27 442.30,171.95 443.30,172.65 444.30,173.36 445.30,174.08 446.30,174.82 447.30,175.58 448.30,176.35 449.30,177.14 450.30,177.95 451.30,178.79 452.30,179.64 453.30,180.52 454.30,181.43 455.30,182.36 456.30,183.31 457.30,184.30 458.30,185.33 459.30,186.42 460.30,187.58 461.30,188.80 462.30,190.10 463.30,191.48 464.30,192.95 465.00,194.00 465.25,194.38 465.30,194.46 465.50,194.77 465.75,195.17 466.00,195.58 466.25,195.99 466.30,196.07 466.50,196.42 466.75,196.85 467.00,197.30 467.25,197.76 467.30,197.86 467.50,198.24 467.75,198.74 468.00,199.25 468.25,199.78 468.30,199.88 468.50,200.32 468.75,200.89 469.00,201.49 469.25,202.10 469.30,202.23 469.50,202.74 469.75,203.40 470.00,204.07 470.25,204.76 470.30,204.91 470.50,205.50 470.75,206.29 471.00,207.15 471.25,208.09 471.30,208.30 471.50,209.14 471.75,210.31 472.00,211.61 472.25,213.05 472.30,213.36 472.50,214.77 472.75,217.47 473.00,220.77 473.10,222.10 473.10,222.10 473.00,221.18 472.75,218.92 472.50,217.00 472.30,215.88 472.25,215.62 472.00,214.41 471.75,213.30 471.50,212.28 471.30,211.53 471.25,211.35 471.00,210.49 470.75,209.69 470.50,208.95 470.30,208.39 470.25,208.25 470.00,207.59 469.75,206.97 469.50,206.36 469.30,205.89 469.25,205.77 469.00,205.21 468.75,204.66 468.50,204.13 468.30,203.72 468.25,203.62 468.00,203.13 467.75,202.65 467.50,202.19 467.30,201.83 467.25,201.74 467.00,201.30 466.75,200.88 466.50,200.47 466.30,200.15 466.25,200.07 466.00,199.68 465.75,199.30 465.50,198.92 465.30,198.63 465.25,198.56 465.00,198.20 464.30,197.21 463.30,195.86 462.30,194.59 461.30,193.40 460.30,192.28 459.30,191.23 458.30,190.23 457.30,189.28 456.30,188.36 455.30,187.47 454.30,186.60 453.30,185.76 452.30,184.93 451.30,184.12 450.30,183.34 449.30,182.57 448.30,181.82 447.30,181.09 446.30,180.38 445.30,179.68 444.30,179.00 443.30,178.33 442.30,177.68 441.30,177.05 440.30,176.43 439.30,175.82 438.30,175.23 437.30,174.65 436.30,174.08 435.30,173.52 434.30,172.98 433.30,172.45 432.30,171.93 431.30,171.42 430.30,170.92 429.30,170.43 428.30,169.94 427.30,169.46 426.30,168.99 425.30,168.52 424.30,168.06 423.30,167.60 422.30,167.14 421.30,166.68 420.30,166.23 419.30,165.77 418.30,165.32 417.30,164.86 416.30,164.40 415.30,163.94 414.30,163.47 413.30,163.01 412.30,162.54 411.30,162.06 410.30,161.59 409.30,161.12 408.30,160.65 407.30,160.18 406.30,159.71 405.30,159.25 404.30,158.79 403.30,158.33 402.30,157.88 401.30,157.43 400.30,157.00 399.30,156.56 398.30,156.14 397.30,155.73 396.30,155.32 395.30,154.92 394.30,154.54 393.30,154.17 392.30,153.81 391.30,153.46 390.30,153.11 389.30,152.77 388.30,152.43 387.30,152.10 386.30,151.78 385.30,151.45 384.30,151.13 383.30,150.82 382.30,150.51 381.30,150.20 380.30,149.90 379.30,149.60 378.30,149.30 377.30,149.00 376.30,148.71 375.30,148.42 374.30,148.14 373.30,147.86 372.30,147.58 371.30,147.30 370.30,147.03 369.30,146.75 368.30,146.48 367.30,146.22 366.30,145.95 365.30,145.69 364.30,145.42 363.30,145.16 362.30,144.90 361.30,144.65 360.30,144.39 359.30,144.14 358.30,143.88 357.30,143.63 356.30,143.38 355.30,143.12 354.30,142.87 353.30,142.62 352.30,142.37 351.30,142.12 350.30,141.87 349.30,141.62 348.30,141.38 347.30,141.13 346.30,140.88 345.30,140.63 344.30,140.37 343.30,140.12 342.30,139.87 341.30,139.62 340.30,139.37 339.30,139.13 338.30,138.88 337.30,138.63 336.30,138.38 335.30,138.14 334.30,137.89 333.30,137.65 332.30,137.40 331.30,137.16 330.30,136.92 329.30,136.68 328.30,136.43 327.30,136.20 326.30,135.96 325.30,135.72 324.30,135.48 323.30,135.25 322.30,135.01 321.30,134.78 320.30,134.55 319.30,134.32 318.30,134.09 317.30,133.86 316.30,133.64 315.30,133.41 314.30,133.19 313.30,132.97 312.30,132.75 311.30,132.53 310.30,132.31 309.30,132.10 308.30,131.88 307.30,131.67 306.30,131.46 305.30,131.25 304.30,131.05 303.30,130.84 302.30,130.64 301.30,130.44 300.30,130.24 299.30,130.04 298.30,129.85 297.30,129.66 296.30,129.47 295.30,129.28 294.30,129.09 293.30,128.91 292.30,128.73 291.30,128.55 290.30,128.37 289.30,128.19 288.30,128.02 287.30,127.85 286.30,127.68 285.30,127.51 284.30,127.34 283.30,127.17 282.30,127.00 281.30,126.84 280.30,126.68 279.30,126.51 278.30,126.35 277.30,126.19 276.30,126.03 275.30,125.87 274.30,125.72 273.30,125.56 272.30,125.40 271.30,125.25 270.30,125.09 269.30,124.93 268.30,124.78 267.30,124.62 266.30,124.47 265.30,124.31 264.30,124.16 263.30,124.00 262.30,123.85 261.30,123.69 260.30,123.54 259.30,123.38 258.30,123.22 257.30,123.07 256.30,122.91 255.30,122.75 254.30,122.59 253.30,122.43 253.05,122.39 252.95,122.38 252.30,122.27 251.30,122.11 250.30,121.95 249.30,121.78 248.30,121.62 247.30,121.45 246.30,121.29 245.30,121.13 244.30,120.96 243.30,120.80 242.30,120.63 241.30,120.47 240.30,120.30 239.30,120.13 238.30,119.97 237.30,119.80 236.30,119.64 235.30,119.47 234.30,119.31 233.30,119.14 232.30,118.98 232.05,118.93 231.95,118.92 231.30,118.81 230.30,118.64 229.30,118.48 228.30,118.31 227.30,118.15 226.30,117.98 225.30,117.82 224.30,117.65 223.30,117.49 222.30,117.32 221.30,117.16 220.30,116.99 219.30,116.83 218.30,116.66 217.30,116.50 216.30,116.33 215.30,116.17 214.30,116.00 213.30,115.84 212.30,115.68 211.30,115.51 210.30,115.35 209.30,115.18 208.30,115.02 207.30,114.86 206.30,114.70 205.30,114.53 204.30,114.37 203.30,114.21 202.30,114.05 201.30,113.89 200.30,113.73 199.30,113.57 198.30,113.41 197.30,113.25 196.30,113.09 195.30,112.93 194.30,112.77 193.30,112.62 192.30,112.46 191.30,112.30 190.30,112.15 189.30,111.99 188.30,111.84 187.30,111.68 186.30,111.53 185.30,111.37 184.30,111.21 183.30,111.06 182.30,110.90 181.30,110.75 180.30,110.59 179.30,110.44 178.30,110.28 177.30,110.13 176.30,109.97 175.30,109.82 174.30,109.66 173.30,109.51 172.30,109.35 171.30,109.19 170.30,109.04 169.30,108.88 168.30,108.72 167.30,108.56 166.30,108.40 165.30,108.24 164.30,108.08 163.30,107.92 162.30,107.76 161.30,107.60 160.30,107.44 159.30,107.28 158.30,107.11 157.30,106.95 156.30,106.78 155.30,106.62 154.30,106.45 153.30,106.28 152.30,106.11 151.30,105.95 150.30,105.78 149.30,105.61 148.30,105.44 147.30,105.27 146.30,105.10 145.30,104.92 144.30,104.75 143.30,104.58 142.30,104.41 141.30,104.23 140.30,104.06 139.30,103.88 138.30,103.71 137.30,103.53 136.30,103.36 135.30,103.18 134.30,103.01 133.30,102.83 132.30,102.65 131.30,102.47 130.30,102.29 129.30,102.12 128.30,101.94 127.30,101.76 126.30,101.58 125.30,101.40 124.30,101.22 123.30,101.03 122.30,100.85 121.30,100.67 120.30,100.49 119.30,100.31 118.30,100.12 117.30,99.94 116.30,99.75 115.30,99.57 114.30,99.39 113.30,99.20"/>
<g mask="url(#mc)"><polygon fill="#00ffff" points="111.30,99.20 113.30,99.20 114.30,99.39 115.30,99.57 116.30,99.75 117.30,99.94 118.30,100.12 119.30,100.31 120.30,100.49 121.30,100.67 122.30,100.85 123.30,101.03 124.30,101.22 125.30,101.40 126.30,101.58 127.30,101.76 128.30,101.94 129.30,102.12 130.30,102.29 131.30,102.47 132.30,102.65 133.30,102.83 134.30,103.01 135.30,103.18 136.30,103.36 137.30,103.53 138.30,103.71 139.30,103.88 140.30,104.06 141.30,104.23 142.30,104.41 143.30,104.58 144.30,104.75 145.30,104.92 146.30,105.10 147.30,105.27 148.30,105.44 149.30,105.61 150.30,105.78 151.30,105.95 152.30,106.11 153.30,106.28 154.30,106.45 155.30,106.62 156.30,106.78 157.30,106.95 158.30,107.11 159.30,107.28 160.30,107.44 161.30,107.60 162.30,107.76 163.30,107.92 164.30,108.08 165.30,108.24 166.30,108.40 167.30,108.56 168.30,108.72 169.30,108.88 170.30,109.04 171.30,109.19 172.30,109.35 173.30,109.51 174.30,109.66 175.30,109.82 176.30,109.97 177.30,110.13 178.30,110.28 179.30,110.44 180.30,110.59 181.30,110.75 182.30,110.90 183.30,111.06 184.30,111.21 185.30,111.37 186.30,111.53 187.30,111.68 188.30,111.84 189.30,111.99 190.30,112.15 191.30,112.30 192.30,112.46 193.30,112.62 194.30,112.77 195.30,112.93 196.30,113.09 197.30,113.25 198.30,113.41 199.30,113.57 200.30,113.73 201.30,113.89 202.30,114.05 203.30,114.21 204.30,114.37 205.30,114.53 206.30,114.70 207.30,114.86 208.30,115.02 209.30,115.18 210.30,115.35 211.30,115.51 212.30,115.68 213.30,115.84 214.30,116.00 215.30,116.17 216.30,116.33 217.30,116.50 218.30,116.66 219.30,116.83 220.30,116.99 221.30,117.16 222.30,117.32 223.30,117.49 224.30,117.65 225.30,117.82 226.30,117.98 227.30,118.15 228.30,118.31 229.30,118.48 230.30,118.64 231.30,118.81 231.95,118.92 232.05,118.93 232.30,118.98 233.30,119.14 234.30,119.31 235.30,119.47 236.30,119.64 237.30,119.80 238.30,119.97 239.30,120.13 240.30,120.30 241.30,120.47 242.30,120.63 243.30,120.80 244.30,120.96 245.30,121.13 246.30,121.29 247.30,121.45 248.30,121.62 249.30,121.78 250.30,121.95 251.30,122.11 252.30,122.27 252.95,122.38 253.05,122.39 253.30,122.43 254.30,122.59 255.30,122.75 256.30,122.91 257.30,123.07 258.30,123.22 259.30,123.38 260.30,123.54 261.30,123.69 262.30,123.85 263.30,124.00 264.30,124.16 265.30,124.31 266.30,124.47 267.30,124.62 268.30,124.78 269.30,124.93 270.30,125.09 271.30,125.25 272.30,125.40 273.30,125.56 274.30,125.72 275.30,125.87 276.30,126.03 277.30,126.19 278.30,126.35 279.30,126.51 280.30,126.68 281.30,126.84 282.30,127.00 283.30,127.17 284.30,127.34 285.30,127.51 286.30,127.68 287.30,127.85 288.30,128.02 289.30,128.19 290.30,128.37 291.30,128.55 292.30,128.73 293.30,128.91 294.30,129.09 295.30,129.28 296.30,129.47 297.30,129.66 298.30,129.85 299.30,130.04 300.30,130.24 301.30,130.44 302.30,130.64 303.30,130.84 304.30,131.05 305.30,131.25 306.30,131.46 307.30,131.67 308.30,131.88 309.30,132.10 310.30,132.31 311.30,132.53 312.30,132.75 313.30,132.97 314.30,133.19 315.30,133.41 316.30,133.64 317.30,133.86 318.30,134.09 319.30,134.32 320.30,134.55 321.30,134.78 322.30,135.01 323.30,135.25 324.30,135.48 325.30,135.72 326.30,135.96 327.30,136.20 328.30,136.43 329.30,136.68 330.30,136.92 331.30,137.16 332.30,137.40 333.30,137.65 334.30,137.89 335.30,138.14 336.30,138.38 337.30,138.63 338.30,138.88 339.30,139.13 340.30,139.37 341.30,139.62 342.30,139.87 343.30,140.12 344.30,140.37 345.30,140.63 346.30,140.88 347.30,141.13 348.30,141.38 349.30,141.62 350.30,141.87 351.30,142.12 352.30,142.37 353.30,142.62 354.30,142.87 355.30,143.12 356.30,143.38 357.30,143.63 358.30,143.88 359.30,144.14 360.30,144.39 361.30,144.65 362.30,144.90 363.30,145.16 364.30,145.42 365.30,145.69 366.30,145.95 367.30,146.22 368.30,146.48 369.30,146.75 370.30,147.03 371.30,147.30 372.30,147.58 373.30,147.86 374.30,148.14 375.30,148.42 376.30,148.71 377.30,149.00 378.30,149.30 379.30,149.60 380.30,149.90 381.30,150.20 382.30,150.51 383.30,150.82 384.30,151.13 385.30,151.45 386.30,151.78 387.30,152.10 388.30,152.43 389.30,152.77 390.30,153.11 391.30,153.46 392.30,153.81 393.30,154.17 394.30,154.54 395.30,154.92 396.30,155.32 397.30,155.73 398.30,156.14 399.30,156.56 400.30,157.00 401.30,157.43 402.30,157.88 403.30,158.33 404.30,158.79 405.30,159.25 406.30,159.71 407.30,160.18 408.30,160.65 409.30,161.12 410.30,161.59 411.30,162.06 412.30,162.54 413.30,163.01 414.30,163.47 415.30,163.94 416.30,164.40 417.30,164.86 418.30,165.32 419.30,165.77 420.30,166.23 421.30,166.68 422.30,167.14 423.30,167.60 424.30,168.06 425.30,168.52 426.30,168.99 427.30,169.46 428.30,169.94 429.30,170.43 430.30,170.92 431.30,171.42 432.30,171.93 433.30,172.45 434.30,172.98 435.30,173.52 436.30,174.08 437.30,174.65 438.30,175.23 439.30,175.82 440.30,176.43 441.30,177.05 442.30,177.68 443.30,178.33 444.30,179.00 445.30,179.68 446.30,180.38 447.30,181.09 448.30,181.82 449.30,182.57 450.30,183.34 451.30,184.12 452.30,184.93 453.30,185.76 454.30,186.60 455.30,187.47 456.30,188.36 457.30,189.28 458.30,190.23 459.30,191.23 460.30,192.28 461.30,193.40 462.30,194.59 463.30,195.86 464.30,197.21 465.00,198.20 465.25,198.56 465.30,198.63 465.50,198.92 465.75,199.30 466.00,199.68 466.25,200.07 466.30,200.15 466.50,200.47 466.75,200.88 467.00,201.30 467.25,201.74 467.30,201.83 467.50,202.19 467.75,202.65 468.00,203.13 468.25,203.62 468.30,203.72 468.50,204.13 468.75,204.66 469.00,205.21 469.25,205.77 469.30,205.89 469.50,206.36 469.75,206.97 470.00,207.59 470.25,208.25 470.30,208.39 470.50,208.95 470.75,209.69 471.00,210.49 471.25,211.35 471.30,211.53 471.50,212.28 471.75,213.30 472.00,214.41 472.25,215.62 472.30,215.88 472.50,217.00 472.75,218.92 473.00,221.18 473.10,222.10 473.10,224.60 473.00,224.47 472.75,224.16 472.50,223.84 472.30,223.59 472.25,223.53 472.00,223.22 471.75,222.91 471.50,222.60 471.30,222.35 471.25,222.29 471.00,221.98 470.75,221.68 470.50,221.37 470.30,221.13 470.25,221.07 470.00,220.77 469.75,220.48 469.50,220.18 469.30,219.95 469.25,219.89 469.00,219.59 468.75,219.30 468.50,219.00 468.30,218.77 468.25,218.71 468.00,218.42 467.75,218.12 467.50,217.83 467.30,217.60 467.25,217.54 467.00,217.26 466.75,216.97 466.50,216.69 466.30,216.46 466.25,216.40 466.00,216.13 465.75,215.85 465.50,215.57 465.30,215.36 465.25,215.30 465.00,215.04 464.30,214.30 463.30,213.30 462.30,212.33 461.30,211.39 460.30,210.48 459.30,209.60 458.30,208.75 457.30,207.94 456.30,207.15 455.30,206.39 454.30,205.66 453.30,204.95 452.30,204.26 451.30,203.61 450.30,202.98 449.30,202.39 448.30,201.81 447.30,201.26 446.30,200.72 445.30,200.20 444.30,199.69 443.30,199.19 442.30,198.71 441.30,198.23 440.30,197.76 439.30,197.29 438.30,196.83 437.30,196.37 436.30,195.91 435.30,195.46 434.30,195.01 433.30,194.56 432.30,194.12 431.30,193.68 430.30,193.24 429.30,192.81 428.30,192.39 427.30,191.97 426.30,191.55 425.30,191.14 424.30,190.74 423.30,190.34 422.30,189.95 421.30,189.56 420.30,189.18 419.30,188.81 418.30,188.45 417.30,188.09 416.30,187.74 415.30,187.40 414.30,187.07 413.30,186.74 412.30,186.43 411.30,186.11 410.30,185.81 409.30,185.51 408.30,185.22 407.30,184.93 406.30,184.65 405.30,184.37 404.30,184.09 403.30,183.82 402.30,183.55 401.30,183.28 400.30,183.02 399.30,182.75 398.30,182.49 397.30,182.22 396.30,181.96 395.30,181.69 394.30,181.42 393.30,181.15 392.30,180.88 391.30,180.61 390.30,180.33 389.30,180.06 388.30,179.78 387.30,179.50 386.30,179.22 385.30,178.94 384.30,178.66 383.30,178.38 382.30,178.10 381.30,177.82 380.30,177.54 379.30,177.26 378.30,176.99 377.30,176.72 376.30,176.44 375.30,176.18 374.30,175.91 373.30,175.65 372.30,175.39 371.30,175.13 370.30,174.88 369.30,174.63 368.30,174.39 367.30,174.15 366.30,173.92 365.30,173.69 364.30,173.47 363.30,173.25 362.30,173.04 361.30,172.83 360.30,172.63 359.30,172.43 358.30,172.24 357.30,172.05 356.30,171.86 355.30,171.68 354.30,171.49 353.30,171.31 352.30,171.13 351.30,170.95 350.30,170.77 349.30,170.59 348.30,170.41 347.30,170.23 346.30,170.05 345.30,169.87 344.30,169.68 343.30,169.49 342.30,169.31 341.30,169.12 340.30,168.93 339.30,168.74 338.30,168.56 337.30,168.37 336.30,168.18 335.30,167.99 334.30,167.81 333.30,167.62 332.30,167.43 331.30,167.25 330.30,167.06 329.30,166.87 328.30,166.69 327.30,166.50 326.30,166.31 325.30,166.13 324.30,165.94 323.30,165.75 322.30,165.57 321.30,165.38 320.30,165.19 319.30,165.01 318.30,164.82 317.30,164.64 316.30,164.45 315.30,164.26 314.30,164.08 313.30,163.89 312.30,163.71 311.30,163.52 310.30,163.34 309.30,163.16 308.30,162.97 307.30,162.79 306.30,162.60 305.30,162.42 304.30,162.23 303.30,162.05 302.30,161.87 301.30,161.68 300.30,161.50 299.30,161.32 298.30,161.14 297.30,160.95 296.30,160.77 295.30,160.59 294.30,160.41 293.30,160.23 292.30,160.05 291.30,159.87 290.30,159.69 289.30,159.51 288.30,159.33 287.30,159.15 286.30,158.97 285.30,158.80 284.30,158.62 283.30,158.44 282.30,158.26 281.30,158.08 280.30,157.91 279.30,157.73 278.30,157.55 277.30,157.38 276.30,157.20 275.30,157.02 274.30,156.84 273.30,156.67 272.30,156.49 271.30,156.31 270.30,156.14 269.30,155.96 268.30,155.78 267.30,155.61 266.30,155.43 265.30,155.25 264.30,155.07 263.30,154.90 262.30,154.72 261.30,154.54 260.30,154.36 259.30,154.18 258.30,154.01 257.30,153.83 256.30,153.65 255.30,153.47 254.30,153.29 253.30,153.11 253.05,153.06 252.95,153.04 252.30,152.93 251.30,152.75 250.30,152.56 249.30,152.38 248.30,152.20 247.30,152.02 246.30,151.84 245.30,151.66 244.30,151.48 243.30,151.30 242.30,151.12 241.30,150.95 240.30,150.77 239.30,150.59 238.30,150.42 237.30,150.24 236.30,150.06 235.30,149.89 234.30,149.71 233.30,149.53 232.30,149.36 232.05,149.31 231.95,149.30 231.30,149.18 230.30,149.00 229.30,148.83 228.30,148.65 227.30,148.47 226.30,148.29 225.30,148.11 224.30,147.93 223.30,147.75 222.30,147.57 221.30,147.38 220.30,147.20 219.30,147.01 218.30,146.83 217.30,146.64 216.30,146.45 215.30,146.26 214.30,146.07 213.30,145.88 212.30,145.69 211.30,145.49 210.30,145.30 209.30,145.10 208.30,144.90 207.30,144.70 206.30,144.50 205.30,144.29 204.30,144.08 203.30,143.87 202.30,143.66 201.30,143.45 200.30,143.24 199.30,143.02 198.30,142.80 197.30,142.58 196.30,142.35 195.30,142.13 194.30,141.90 193.30,141.67 192.30,141.44 191.30,141.20 190.30,140.97 189.30,140.73 188.30,140.49 187.30,140.25 186.30,140.01 185.30,139.77 184.30,139.52 183.30,139.28 182.30,139.03 181.30,138.78 180.30,138.53 179.30,138.28 178.30,138.03 177.30,137.77 176.30,137.52 175.30,137.26 174.30,137.00 173.30,136.74 172.30,136.49 171.30,136.23 170.30,135.97 169.30,135.70 168.30,135.44 167.30,135.18 166.30,134.92 165.30,134.65 164.30,134.39 163.30,134.12 162.30,133.86 161.30,133.59 160.30,133.32 159.30,133.06 158.30,132.79 157.30,132.52 156.30,132.25 155.30,131.99 154.30,131.72 153.30,131.45 152.30,131.18 151.30,130.91 150.30,130.64 149.30,130.37 148.30,130.09 147.30,129.82 146.30,129.54 145.30,129.26 144.30,128.99 143.30,128.71 142.30,128.43 141.30,128.15 140.30,127.86 139.30,127.58 138.30,127.30 137.30,127.01 136.30,126.73 135.30,126.44 134.30,126.15 133.30,125.86 132.30,125.57 131.30,125.28 130.30,124.99 129.30,124.70 128.30,124.40 127.30,124.11 126.30,123.81 125.30,123.52 124.30,123.22 123.30,122.92 122.30,122.63 121.30,122.33 120.30,122.03 119.30,121.72 118.30,121.42 117.30,121.12 116.30,120.82 115.30,120.51 114.30,120.21 113.30,119.90 111.30,119.90"/></g>
<polygon shape-rendering="crispEdges" fill="#0000ff" points="113.30,136.00 114.30,136.61 115.30,137.22 116.30,137.83 117.30,138.44 118.30,139.04 119.30,139.64 120.30,140.24 121.30,140.84 122.30,141.44 123.30,142.03 124.30,142.63 125.30,143.22 126.30,143.81 127.30,144.39 128.30,144.98 129.30,145.56 130.30,146.14 131.30,146.72 132.30,147.29 133.30,147.87 134.30,148.44 135.30,149.00 136.30,149.57 137.30,150.14 138.30,150.70 139.30,151.26 140.30,151.81 141.30,152.37 142.30,152.92 143.30,153.47 144.30,154.02 145.30,154.56 146.30,155.10 147.30,155.64 148.30,156.18 149.30,156.71 150.30,157.24 151.30,157.77 152.30,158.30 153.30,158.82 154.30,159.34 155.30,159.86 156.30,160.38 157.30,160.89 158.30,161.40 159.30,161.91 160.30,162.41 161.30,162.92 162.30,163.42 163.30,163.91 164.30,164.41 165.30,164.90 166.30,165.39 167.30,165.88 168.30,166.37 169.30,166.85 170.30,167.34 171.30,167.82 172.30,168.30 173.30,168.78 174.30,169.25 175.30,169.73 176.30,170.20 177.30,170.67 178.30,171.14 179.30,171.61 180.30,172.08 181.30,172.54 182.30,173.01 183.30,173.47 184.30,173.93 185.30,174.39 186.30,174.85 187.30,175.31 188.30,175.77 189.30,176.23 190.30,176.69 191.30,177.14 192.30,177.60 193.30,178.05 194.30,178.51 195.30,178.96 196.30,179.42 197.30,179.87 198.30,180.32 199.30,180.78 200.30,181.23 201.30,181.68 202.30,182.14 203.30,182.58 204.30,183.02 205.30,183.45 206.30,183.88 207.30,184.30 208.30,184.72 209.30,185.13 210.30,185.54 211.30,185.94 212.30,186.34 213.30,186.74 214.30,187.14 215.30,187.54 216.30,187.93 217.30,188.33 218.30,188.72 219.30,189.12 220.30,189.52 221.30,189.92 222.30,190.32 223.30,190.73 224.30,191.14 225.30,191.55 226.30,191.97 227.30,192.40 228.30,192.83 229.30,193.27 230.30,193.71 231.30,194.16 231.95,194.46 232.05,194.51 232.30,194.62 233.30,195.09 234.30,195.57 235.30,196.06 236.30,196.56 237.30,197.07 238.30,197.59 239.30,198.12 240.30,198.67 241.30,199.29 242.30,199.97 243.30,200.70 244.30,201.44 245.30,202.19 246.30,202.91 247.30,203.58 248.30,204.19 249.30,204.69 250.30,205.12 251.30,205.50 252.30,205.85 252.95,206.07 253.05,206.10 253.30,206.18 254.30,206.49 255.30,206.79 256.30,207.08 257.30,207.38 258.30,207.69 259.30,208.01 260.30,208.32 261.30,208.62 262.30,208.93 263.30,209.23 264.30,209.52 265.30,209.82 266.30,210.11 267.30,210.40 268.30,210.69 269.30,210.97 270.30,211.25 271.30,211.53 272.30,211.81 273.30,212.08 274.30,212.35 275.30,212.62 276.30,212.89 277.30,213.15 278.30,213.42 279.30,213.68 280.30,213.94 281.30,214.20 282.30,214.45 283.30,214.71 284.30,214.97 285.30,215.22 286.30,215.48 287.30,215.74 288.30,216.00 289.30,216.26 290.30,216.52 291.30,216.77 292.30,217.02 293.30,217.27 294.30,217.51 295.30,217.73 296.30,217.95 297.30,218.16 298.30,218.37 299.30,218.57 300.30,218.77 301.30,218.97 302.30,219.16 303.30,219.36 304.30,219.55 305.30,219.74 306.30,219.93 307.30,220.12 308.30,220.30 309.30,220.49 310.30,220.67 311.30,220.85 312.30,221.03 313.30,221.20 314.30,221.38 315.30,221.55 316.30,221.72 317.30,221.89 318.30,222.06 319.30,222.23 320.30,222.39 321.30,222.56 322.30,222.72 323.30,222.88 324.30,223.04 325.30,223.19 326.30,223.35 327.30,223.50 328.30,223.65 329.30,223.80 330.30,223.95 331.30,224.10 332.30,224.25 333.30,224.39 334.30,224.53 335.30,224.68 336.30,224.82 337.30,224.95 338.30,225.09 339.30,225.23 340.30,225.36 341.30,225.50 342.30,225.63 343.30,225.76 344.30,225.89 345.30,226.02 346.30,226.14 347.30,226.27 348.30,226.39 349.30,226.52 350.30,226.64 351.30,226.76 352.30,226.89 353.30,227.01 354.30,227.13 355.30,227.25 356.30,227.36 357.30,227.48 358.30,227.60 359.30,227.71 360.30,227.83 361.30,227.94 362.30,228.05 363.30,228.17 364.30,228.28 365.30,228.39 366.30,228.49 367.30,228.60 368.30,228.71 369.30,228.81 370.30,228.92 371.30,229.02 372.30,229.12 373.30,229.22 374.30,229.32 375.30,229.42 376.30,229.52 377.30,229.62 378.30,229.71 379.30,229.81 380.30,229.90 381.30,229.99 382.30,230.08 383.30,230.17 384.30,230.26 385.30,230.35 386.30,230.43 387.30,230.52 388.30,230.60 389.30,230.68 390.30,230.76 391.30,230.84 392.30,230.92 393.30,231.00 394.30,231.09 395.30,231.17 396.30,231.26 397.30,231.35 398.30,231.44 399.30,231.52 400.30,231.61 401.30,231.70 402.30,231.78 403.30,231.86 404.30,231.94 405.30,232.01 406.30,232.08 407.30,232.14 408.30,232.20 409.30,232.25 410.30,232.30 411.30,232.34 412.30,232.36 413.30,232.39 414.30,232.40 415.30,232.40 416.30,232.39 417.30,232.38 418.30,232.35 419.30,232.32 420.30,232.28 421.30,232.24 422.30,232.19 423.30,232.13 424.30,232.06 425.30,231.99 426.30,231.92 427.30,231.84 428.30,231.76 429.30,231.67 430.30,231.58 431.30,231.49 432.30,231.39 433.30,231.29 434.30,231.19 435.30,231.09 436.30,230.99 437.30,230.89 438.30,230.78 439.30,230.68 440.30,230.57 441.30,230.44 442.30,230.31 443.30,230.16 444.30,230.00 445.30,229.83 446.30,229.66 447.30,229.48 448.30,229.29 449.30,229.10 450.30,228.90 451.30,228.69 452.30,228.49 453.30,228.28 454.30,228.07 455.30,227.86 456.30,227.65 457.30,227.44 458.30,227.23 459.30,227.02 460.30,226.81 461.30,226.59 462.30,226.35 463.30,226.11 464.30,225.85 465.00,225.65 465.25,225.58 465.30,225.57 465.50,225.51 465.75,225.43 466.00,225.36 466.25,225.28 466.30,225.26 466.50,225.20 466.75,225.12 467.00,225.03 467.25,224.94 467.30,224.93 467.50,224.85 467.75,224.76 468.00,224.66 468.25,224.56 468.30,224.54 468.50,224.45 468.75,224.34 469.00,224.23 469.25,224.12 469.30,224.10 469.50,224.00 469.75,223.88 470.00,223.76 470.25,223.64 470.30,223.61 470.50,223.51 470.75,223.38 471.00,223.25 471.25,223.12 471.30,223.09 471.50,222.99 471.75,222.85 472.00,222.71 472.25,222.58 472.30,222.55 472.50,222.44 472.75,222.30 473.00,222.16 473.10,222.10 473.30,222.50 473.25,222.73 473.00,223.87 472.75,224.93 472.50,225.82 472.30,226.36 472.25,226.48 472.00,227.08 471.75,227.64 471.50,228.16 471.30,228.54 471.25,228.64 471.00,229.08 470.75,229.49 470.50,229.86 470.30,230.14 470.25,230.21 470.00,230.53 469.75,230.83 469.50,231.11 469.30,231.32 469.25,231.37 469.00,231.63 468.75,231.87 468.50,232.10 468.30,232.28 468.25,232.32 468.00,232.53 467.75,232.74 467.50,232.93 467.30,233.08 467.25,233.12 467.00,233.30 466.75,233.48 466.50,233.65 466.30,233.79 466.25,233.82 466.00,233.98 465.75,234.14 465.50,234.29 465.30,234.42 465.25,234.45 465.00,234.60 464.30,235.02 463.30,235.62 462.30,236.18 461.30,236.72 460.30,237.22 459.30,237.70 458.30,238.15 457.30,238.58 456.30,238.98 455.30,239.35 454.30,239.71 453.30,240.04 452.30,240.37 451.30,240.69 450.30,241.00 449.30,241.32 448.30,241.64 447.30,241.95 446.30,242.25 445.30,242.55 444.30,242.85 443.30,243.14 442.30,243.43 441.30,243.71 440.30,243.98 439.30,244.25 438.30,244.51 437.30,244.77 436.30,245.03 435.30,245.28 434.30,245.53 433.30,245.77 432.30,246.00 431.30,246.23 430.30,246.44 429.30,246.64 428.30,246.83 427.30,247.02 426.30,247.21 425.30,247.39 424.30,247.57 423.30,247.74 422.30,247.91 421.30,248.07 420.30,248.23 419.30,248.37 418.30,248.51 417.30,248.64 416.30,248.76 415.30,248.87 414.30,248.97 413.30,249.07 412.30,249.17 411.30,249.27 410.30,249.37 409.30,249.47 408.30,249.56 407.30,249.66 406.30,249.75 405.30,249.84 404.30,249.92 403.30,250.00 402.30,250.08 401.30,250.15 400.30,250.22 399.30,250.28 398.30,250.33 397.30,250.38 396.30,250.42 395.30,250.45 394.30,250.48 393.30,250.49 392.30,250.50 391.30,250.50 390.30,250.50 389.30,250.49 388.30,250.48 387.30,250.47 386.30,250.45 385.30,250.44 384.30,250.42 383.30,250.40 382.30,250.37 381.30,250.34 380.30,250.32 379.30,250.28 378.30,250.25 377.30,250.22 376.30,250.18 375.30,250.14 374.30,250.10 373.30,250.06 372.30,250.01 371.30,249.96 370.30,249.92 369.30,249.87 368.30,249.82 367.30,249.76 366.30,249.71 365.30,249.65 364.30,249.60 363.30,249.54 362.30,249.48 361.30,249.42 360.30,249.36 359.30,249.30 358.30,249.23 357.30,249.17 356.30,249.10 355.30,249.04 354.30,248.97 353.30,248.91 352.30,248.84 351.30,248.77 350.30,248.70 349.30,248.64 348.30,248.57 347.30,248.50 346.30,248.43 345.30,248.36 344.30,248.29 343.30,248.22 342.30,248.15 341.30,248.07 340.30,247.99 339.30,247.90 338.30,247.81 337.30,247.72 336.30,247.63 335.30,247.53 334.30,247.43 333.30,247.32 332.30,247.21 331.30,247.10 330.30,246.99 329.30,246.87 328.30,246.75 327.30,246.63 326.30,246.51 325.30,246.38 324.30,246.25 323.30,246.12 322.30,245.98 321.30,245.84 320.30,245.70 319.30,245.56 318.30,245.42 317.30,245.27 316.30,245.12 315.30,244.97 314.30,244.82 313.30,244.66 312.30,244.50 311.30,244.35 310.30,244.18 309.30,244.02 308.30,243.86 307.30,243.69 306.30,243.52 305.30,243.36 304.30,243.18 303.30,243.01 302.30,242.84 301.30,242.66 300.30,242.49 299.30,242.31 298.30,242.13 297.30,241.95 296.30,241.77 295.30,241.59 294.30,241.39 293.30,241.19 292.30,240.99 291.30,240.78 290.30,240.57 289.30,240.35 288.30,240.12 287.30,239.89 286.30,239.66 285.30,239.42 284.30,239.18 283.30,238.93 282.30,238.68 281.30,238.42 280.30,238.17 279.30,237.90 278.30,237.64 277.30,237.37 276.30,237.09 275.30,236.82 274.30,236.54 273.30,236.26 272.30,235.97 271.30,235.68 270.30,235.40 269.30,235.10 268.30,234.81 267.30,234.51 266.30,234.21 265.30,233.91 264.30,233.61 263.30,233.31 262.30,233.00 261.30,232.70 260.30,232.39 259.30,232.08 258.30,231.77 257.30,231.46 256.30,231.15 255.30,230.84 254.30,230.53 253.30,230.22 253.05,230.14 252.95,230.11 252.30,229.90 251.30,229.59 250.30,229.28 249.30,228.97 248.30,228.66 247.30,228.34 246.30,228.03 245.30,227.71 244.30,227.39 243.30,227.07 242.30,226.74 241.30,226.42 240.30,226.09 239.30,225.76 238.30,225.43 237.30,225.10 236.30,224.76 235.30,224.42 234.30,224.08 233.30,223.74 232.30,223.39 232.05,223.31 231.95,223.27 231.30,223.04 230.30,222.69 229.30,222.34 228.30,221.99 227.30,221.63 226.30,221.27 225.30,220.91 224.30,220.55 223.30,220.18 222.30,219.81 221.30,219.44 220.30,219.06 219.30,218.68 218.30,218.30 217.30,217.92 216.30,217.53 215.30,217.15 214.30,216.76 213.30,216.36 212.30,215.96 211.30,215.56 210.30,215.16 209.30,214.76 208.30,214.35 207.30,213.93 206.30,213.52 205.30,213.10 204.30,212.68 203.30,212.26 202.30,211.83 201.30,211.40 200.30,210.96 199.30,210.51 198.30,210.06 197.30,209.60 196.30,209.14 195.30,208.67 194.30,208.20 193.30,207.71 192.30,207.23 191.30,206.74 190.30,206.24 189.30,205.74 188.30,205.23 187.30,204.72 186.30,204.21 185.30,203.69 184.30,203.17 183.30,202.64 182.30,202.11 181.30,201.58 180.30,201.05 179.30,200.51 178.30,199.97 177.30,199.43 176.30,198.88 175.30,198.33 174.30,197.79 173.30,197.24 172.30,196.68 171.30,196.13 170.30,195.58 169.30,195.02 168.30,194.47 167.30,193.91 166.30,193.36 165.30,192.80 164.30,192.24 163.30,191.69 162.30,191.13 161.30,190.58 160.30,190.03 159.30,189.47 158.30,188.92 157.30,188.37 156.30,187.83 155.30,187.28 154.30,186.74 153.30,186.20 152.30,185.66 151.30,185.12 150.30,184.58 149.30,184.04 148.30,183.50 147.30,182.96 146.30,182.42 145.30,181.87 144.30,181.32 143.30,180.77 142.30,180.21 141.30,179.65 140.30,179.08 139.30,178.50 138.30,177.92 137.30,177.33 136.30,176.73 135.30,176.12 134.30,175.51 133.30,174.88 132.30,174.25 131.30,173.62 130.30,172.98 129.30,172.33 128.30,171.67 127.30,171.01 126.30,170.34 125.30,169.67 124.30,168.99 123.30,168.30 122.30,167.61 121.30,166.91 120.30,166.20 119.30,165.49 118.30,164.77 117.30,164.05 116.30,163.32 115.30,162.59 114.30,161.85 113.30,161.10"/>
<g mask="url(#mr)"><polygon fill="#ff0000" points="111.30,128.50 113.30,128.50 114.30,129.05 115.30,129.59 116.30,130.13 117.30,130.67 118.30,131.21 119.30,131.74 120.30,132.27 121.30,132.80 122.30,133.33 123.30,133.85 124.30,134.37 125.30,134.89 126.30,135.40 127.30,135.91 128.30,136.42 129.30,136.92 130.30,137.43 131.30,137.92 132.30,138.42 133.30,138.91 134.30,139.40 135.30,139.88 136.30,140.37 137.30,140.84 138.30,141.32 139.30,141.79 140.30,142.26 141.30,142.72 142.30,143.18 143.30,143.63 144.30,144.09 145.30,144.53 146.30,144.98 147.30,145.42 148.30,145.85 149.30,146.28 150.30,146.71 151.30,147.13 152.30,147.55 153.30,147.97 154.30,148.38 155.30,148.78 156.30,149.18 157.30,149.58 158.30,149.97 159.30,150.35 160.30,150.73 161.30,151.10 162.30,151.47 163.30,151.84 164.30,152.20 165.30,152.56 166.30,152.91 167.30,153.26 168.30,153.61 169.30,153.96 170.30,154.30 171.30,154.64 172.30,154.98 173.30,155.31 174.30,155.65 175.30,155.98 176.30,156.31 177.30,156.64 178.30,156.97 179.30,157.29 180.30,157.62 181.30,157.95 182.30,158.27 183.30,158.60 184.30,158.93 185.30,159.26 186.30,159.58 187.30,159.91 188.30,160.24 189.30,160.57 190.30,160.91 191.30,161.24 192.30,161.58 193.30,161.92 194.30,162.26 195.30,162.61 196.30,162.95 197.30,163.30 198.30,163.66 199.30,164.02 200.30,164.38 201.30,164.74 202.30,165.11 203.30,165.48 204.30,165.86 205.30,166.24 206.30,166.62 207.30,167.01 208.30,167.40 209.30,167.79 210.30,168.18 211.30,168.57 212.30,168.96 213.30,169.36 214.30,169.76 215.30,170.15 216.30,170.55 217.30,170.94 218.30,171.34 219.30,171.74 220.30,172.13 221.30,172.52 222.30,172.92 223.30,173.31 224.30,173.69 225.30,174.08 226.30,174.46 227.30,174.85 228.30,175.23 229.30,175.61 230.30,175.99 231.30,176.37 231.95,176.62 232.05,176.66 232.30,176.75 233.30,177.13 234.30,177.51 235.30,177.88 236.30,178.26 237.30,178.63 238.30,179.01 239.30,179.38 240.30,179.75 241.30,180.13 242.30,180.51 243.30,180.89 244.30,181.27 245.30,181.65 246.30,182.02 247.30,182.38 248.30,182.73 249.30,183.07 250.30,183.39 251.30,183.71 252.30,184.02 252.95,184.23 253.05,184.26 253.30,184.33 254.30,184.64 255.30,184.95 256.30,185.25 257.30,185.54 258.30,185.84 259.30,186.13 260.30,186.42 261.30,186.70 262.30,186.99 263.30,187.27 264.30,187.54 265.30,187.82 266.30,188.09 267.30,188.36 268.30,188.63 269.30,188.90 270.30,189.16 271.30,189.42 272.30,189.68 273.30,189.94 274.30,190.20 275.30,190.46 276.30,190.71 277.30,190.97 278.30,191.22 279.30,191.47 280.30,191.72 281.30,191.98 282.30,192.23 283.30,192.48 284.30,192.73 285.30,192.97 286.30,193.22 287.30,193.46 288.30,193.70 289.30,193.94 290.30,194.17 291.30,194.40 292.30,194.63 293.30,194.86 294.30,195.09 295.30,195.32 296.30,195.54 297.30,195.77 298.30,195.99 299.30,196.22 300.30,196.45 301.30,196.68 302.30,196.90 303.30,197.13 304.30,197.36 305.30,197.59 306.30,197.82 307.30,198.05 308.30,198.27 309.30,198.50 310.30,198.73 311.30,198.96 312.30,199.19 313.30,199.41 314.30,199.64 315.30,199.87 316.30,200.09 317.30,200.32 318.30,200.54 319.30,200.76 320.30,200.99 321.30,201.21 322.30,201.43 323.30,201.65 324.30,201.87 325.30,202.08 326.30,202.30 327.30,202.51 328.30,202.73 329.30,202.94 330.30,203.15 331.30,203.36 332.30,203.56 333.30,203.77 334.30,203.97 335.30,204.17 336.30,204.37 337.30,204.57 338.30,204.76 339.30,204.95 340.30,205.14 341.30,205.33 342.30,205.52 343.30,205.70 344.30,205.88 345.30,206.06 346.30,206.24 347.30,206.42 348.30,206.60 349.30,206.77 350.30,206.95 351.30,207.12 352.30,207.30 353.30,207.47 354.30,207.65 355.30,207.82 356.30,207.99 357.30,208.16 358.30,208.33 359.30,208.50 360.30,208.67 361.30,208.84 362.30,209.00 363.30,209.17 364.30,209.33 365.30,209.49 366.30,209.65 367.30,209.81 368.30,209.97 369.30,210.13 370.30,210.28 371.30,210.44 372.30,210.59 373.30,210.74 374.30,210.89 375.30,211.03 376.30,211.18 377.30,211.32 378.30,211.46 379.30,211.60 380.30,211.74 381.30,211.88 382.30,212.01 383.30,212.14 384.30,212.27 385.30,212.40 386.30,212.53 387.30,212.65 388.30,212.77 389.30,212.89 390.30,213.01 391.30,213.12 392.30,213.23 393.30,213.34 394.30,213.45 395.30,213.55 396.30,213.65 397.30,213.75 398.30,213.85 399.30,213.94 400.30,214.04 401.30,214.13 402.30,214.22 403.30,214.31 404.30,214.40 405.30,214.48 406.30,214.57 407.30,214.65 408.30,214.74 409.30,214.82 410.30,214.91 411.30,214.99 412.30,215.07 413.30,215.16 414.30,215.24 415.30,215.33 416.30,215.41 417.30,215.50 418.30,215.58 419.30,215.67 420.30,215.75 421.30,215.84 422.30,215.92 423.30,216.01 424.30,216.09 425.30,216.18 426.30,216.26 427.30,216.34 428.30,216.42 429.30,216.50 430.30,216.58 431.30,216.66 432.30,216.74 433.30,216.81 434.30,216.88 435.30,216.95 436.30,217.02 437.30,217.09 438.30,217.15 439.30,217.21 440.30,217.27 441.30,217.32 442.30,217.38 443.30,217.43 444.30,217.47 445.30,217.52 446.30,217.56 447.30,217.61 448.30,217.65 449.30,217.69 450.30,217.74 451.30,217.79 452.30,217.83 453.30,217.88 454.30,217.94 455.30,217.99 456.30,218.06 457.30,218.12 458.30,218.19 459.30,218.26 460.30,218.34 461.30,218.42 462.30,218.50 463.30,218.59 464.30,218.68 465.00,218.75 465.25,218.77 465.30,218.78 465.50,218.80 465.75,218.82 466.00,218.85 466.25,218.87 466.30,218.87 466.50,218.89 466.75,218.92 467.00,218.94 467.25,218.97 467.30,218.97 467.50,218.99 467.75,219.02 468.00,219.05 468.25,219.07 468.30,219.08 468.50,219.10 468.75,219.12 469.00,219.15 469.25,219.18 469.30,219.18 469.50,219.20 469.75,219.23 470.00,219.26 470.25,219.28 470.30,219.29 470.50,219.31 470.75,219.34 471.00,219.37 471.25,219.39 471.30,219.40 471.50,219.42 471.75,219.45 472.00,219.48 472.25,219.50 472.30,219.51 472.50,219.53 472.75,219.56 473.00,219.59 473.10,219.60 473.10,224.60 473.00,224.64 472.75,224.75 472.50,224.86 472.30,224.94 472.25,224.96 472.00,225.07 471.75,225.17 471.50,225.27 471.30,225.35 471.25,225.37 471.00,225.47 470.75,225.57 470.50,225.67 470.30,225.75 470.25,225.76 470.00,225.86 469.75,225.95 469.50,226.03 469.30,226.10 469.25,226.12 469.00,226.20 468.75,226.28 468.50,226.36 468.30,226.42 468.25,226.43 468.00,226.50 467.75,226.57 467.50,226.63 467.30,226.69 467.25,226.70 467.00,226.76 466.75,226.83 466.50,226.89 466.30,226.94 466.25,226.96 466.00,227.02 465.75,227.08 465.50,227.14 465.30,227.19 465.25,227.20 465.00,227.26 464.30,227.42 463.30,227.64 462.30,227.84 461.30,228.04 460.30,228.21 459.30,228.38 458.30,228.53 457.30,228.66 456.30,228.78 455.30,228.90 454.30,229.01 453.30,229.12 452.30,229.23 451.30,229.33 450.30,229.42 449.30,229.52 448.30,229.60 447.30,229.69 446.30,229.76 445.30,229.84 444.30,229.91 443.30,229.97 442.30,230.04 441.30,230.09 440.30,230.14 439.30,230.19 438.30,230.24 437.30,230.28 436.30,230.32 435.30,230.37 434.30,230.41 433.30,230.45 432.30,230.49 431.30,230.53 430.30,230.57 429.30,230.61 428.30,230.64 427.30,230.67 426.30,230.71 425.30,230.74 424.30,230.77 423.30,230.79 422.30,230.81 421.30,230.84 420.30,230.85 419.30,230.87 418.30,230.88 417.30,230.89 416.30,230.90 415.30,230.90 414.30,230.90 413.30,230.89 412.30,230.88 411.30,230.86 410.30,230.84 409.30,230.81 408.30,230.78 407.30,230.74 406.30,230.70 405.30,230.66 404.30,230.61 403.30,230.56 402.30,230.51 401.30,230.46 400.30,230.40 399.30,230.34 398.30,230.28 397.30,230.22 396.30,230.16 395.30,230.10 394.30,230.04 393.30,229.98 392.30,229.92 391.30,229.86 390.30,229.79 389.30,229.72 388.30,229.65 387.30,229.57 386.30,229.49 385.30,229.40 384.30,229.31 383.30,229.22 382.30,229.12 381.30,229.02 380.30,228.92 379.30,228.81 378.30,228.70 377.30,228.59 376.30,228.48 375.30,228.36 374.30,228.24 373.30,228.12 372.30,227.99 371.30,227.87 370.30,227.74 369.30,227.61 368.30,227.48 367.30,227.35 366.30,227.21 365.30,227.08 364.30,226.94 363.30,226.81 362.30,226.67 361.30,226.53 360.30,226.39 359.30,226.25 358.30,226.11 357.30,225.97 356.30,225.83 355.30,225.69 354.30,225.55 353.30,225.41 352.30,225.27 351.30,225.13 350.30,224.99 349.30,224.86 348.30,224.72 347.30,224.58 346.30,224.45 345.30,224.32 344.30,224.19 343.30,224.06 342.30,223.93 341.30,223.80 340.30,223.66 339.30,223.53 338.30,223.40 337.30,223.27 336.30,223.14 335.30,223.01 334.30,222.88 333.30,222.74 332.30,222.61 331.30,222.48 330.30,222.34 329.30,222.21 328.30,222.08 327.30,221.94 326.30,221.81 325.30,221.67 324.30,221.53 323.30,221.39 322.30,221.26 321.30,221.12 320.30,220.98 319.30,220.84 318.30,220.69 317.30,220.55 316.30,220.41 315.30,220.26 314.30,220.12 313.30,219.97 312.30,219.82 311.30,219.67 310.30,219.52 309.30,219.37 308.30,219.22 307.30,219.07 306.30,218.91 305.30,218.75 304.30,218.60 303.30,218.44 302.30,218.28 301.30,218.12 300.30,217.95 299.30,217.79 298.30,217.62 297.30,217.45 296.30,217.28 295.30,217.11 294.30,216.94 293.30,216.77 292.30,216.60 291.30,216.42 290.30,216.25 289.30,216.08 288.30,215.90 287.30,215.73 286.30,215.55 285.30,215.37 284.30,215.19 283.30,215.01 282.30,214.83 281.30,214.64 280.30,214.46 279.30,214.27 278.30,214.08 277.30,213.89 276.30,213.70 275.30,213.50 274.30,213.31 273.30,213.11 272.30,212.91 271.30,212.70 270.30,212.50 269.30,212.29 268.30,212.08 267.30,211.86 266.30,211.65 265.30,211.43 264.30,211.21 263.30,210.98 262.30,210.75 261.30,210.52 260.30,210.29 259.30,210.05 258.30,209.81 257.30,209.56 256.30,209.32 255.30,209.06 254.30,208.81 253.30,208.55 253.05,208.48 252.95,205.96 252.30,205.79 251.30,205.52 250.30,205.25 249.30,204.97 248.30,204.69 247.30,204.40 246.30,204.09 245.30,203.78 244.30,203.46 243.30,203.13 242.30,202.79 241.30,202.45 240.30,202.09 239.30,201.73 238.30,201.36 237.30,200.99 236.30,200.60 235.30,200.21 234.30,199.82 233.30,199.41 232.30,199.01 232.05,198.90 231.95,198.86 231.30,198.59 230.30,198.18 229.30,197.75 228.30,197.33 227.30,196.89 226.30,196.46 225.30,196.02 224.30,195.58 223.30,195.13 222.30,194.68 221.30,194.23 220.30,193.78 219.30,193.32 218.30,192.86 217.30,192.40 216.30,191.94 215.30,191.48 214.30,191.02 213.30,190.56 212.30,190.10 211.30,189.63 210.30,189.17 209.30,188.71 208.30,188.25 207.30,187.79 206.30,187.34 205.30,186.88 204.30,186.43 203.30,185.98 202.30,185.53 201.30,185.09 200.30,184.64 199.30,184.20 198.30,183.75 197.30,183.30 196.30,182.85 195.30,182.39 194.30,181.94 193.30,181.48 192.30,181.03 191.30,180.57 190.30,180.11 189.30,179.65 188.30,179.19 187.30,178.73 186.30,178.26 185.30,177.79 184.30,177.33 183.30,176.86 182.30,176.39 181.30,175.91 180.30,175.44 179.30,174.96 178.30,174.48 177.30,174.00 176.30,173.52 175.30,173.04 174.30,172.56 173.30,172.07 172.30,171.58 171.30,171.09 170.30,170.60 169.30,170.10 168.30,169.61 167.30,169.11 166.30,168.61 165.30,168.11 164.30,167.60 163.30,167.10 162.30,166.59 161.30,166.08 160.30,165.56 159.30,165.05 158.30,164.53 157.30,164.01 156.30,163.49 155.30,162.97 154.30,162.44 153.30,161.91 152.30,161.38 151.30,160.85 150.30,160.31 149.30,159.77 148.30,159.23 147.30,158.68 146.30,158.13 145.30,157.58 144.30,157.03 143.30,156.47 142.30,155.92 141.30,155.35 140.30,154.79 139.30,154.22 138.30,153.66 137.30,153.09 136.30,152.51 135.30,151.94 134.30,151.36 133.30,150.78 132.30,150.19 131.30,149.61 130.30,149.02 129.30,148.43 128.30,147.84 127.30,147.24 126.30,146.65 125.30,146.05 124.30,145.45 123.30,144.84 122.30,144.24 121.30,143.63 120.30,143.02 119.30,142.41 118.30,141.80 117.30,141.18 116.30,140.56 115.30,139.94 114.30,139.32 113.30,138.70 111.30,138.70"/></g>
<g mask="url(#mg)"><polygon fill="#00a800" points="111.30,117.40 113.30,117.40 114.30,117.79 115.30,118.19 116.30,118.58 117.30,118.97 118.30,119.36 119.30,119.75 120.30,120.14 121.30,120.53 122.30,120.92 123.30,121.31 124.30,121.70 125.30,122.09 126.30,122.48 127.30,122.86 128.30,123.25 129.30,123.63 130.30,124.02 131.30,124.40 132.30,124.79 133.30,125.17 134.30,125.55 135.30,125.94 136.30,126.32 137.30,126.70 138.30,127.08 139.30,127.46 140.30,127.84 141.30,128.22 142.30,128.60 143.30,128.97 144.30,129.35 145.30,129.73 146.30,130.10 147.30,130.48 148.30,130.85 149.30,131.23 150.30,131.60 151.30,131.97 152.30,132.35 153.30,132.72 154.30,133.09 155.30,133.46 156.30,133.83 157.30,134.20 158.30,134.57 159.30,134.95 160.30,135.32 161.30,135.69 162.30,136.06 163.30,136.43 164.30,136.81 165.30,137.18 166.30,137.55 167.30,137.92 168.30,138.29 169.30,138.66 170.30,139.03 171.30,139.40 172.30,139.77 173.30,140.14 174.30,140.51 175.30,140.88 176.30,141.25 177.30,141.61 178.30,141.98 179.30,142.34 180.30,142.70 181.30,143.06 182.30,143.42 183.30,143.78 184.30,144.14 185.30,144.50 186.30,144.85 187.30,145.21 188.30,145.56 189.30,145.91 190.30,146.26 191.30,146.61 192.30,146.95 193.30,147.30 194.30,147.64 195.30,147.98 196.30,148.32 197.30,148.65 198.30,148.99 199.30,149.32 200.30,149.65 201.30,149.97 202.30,150.30 203.30,150.62 204.30,150.94 205.30,151.26 206.30,151.58 207.30,151.90 208.30,152.21 209.30,152.53 210.30,152.84 211.30,153.15 212.30,153.46 213.30,153.77 214.30,154.08 215.30,154.39 216.30,154.69 217.30,155.00 218.30,155.30 219.30,155.60 220.30,155.90 221.30,156.20 222.30,156.50 223.30,156.80 224.30,157.09 225.30,157.39 226.30,157.68 227.30,157.98 228.30,158.27 229.30,158.56 230.30,158.85 231.30,159.14 231.95,159.32 232.05,159.35 232.30,159.43 233.30,159.71 234.30,160.00 235.30,160.28 236.30,160.57 237.30,160.85 238.30,161.13 239.30,161.41 240.30,161.69 241.30,161.97 242.30,162.25 243.30,162.53 244.30,162.80 245.30,163.08 246.30,163.35 247.30,163.63 248.30,163.90 249.30,164.17 250.30,164.44 251.30,164.72 252.30,164.99 252.95,165.16 253.05,165.19 253.30,165.26 254.30,165.52 255.30,165.79 256.30,166.06 257.30,166.33 258.30,166.59 259.30,166.86 260.30,167.12 261.30,167.38 262.30,167.65 263.30,167.91 264.30,168.17 265.30,168.43 266.30,168.69 267.30,168.95 268.30,169.20 269.30,169.46 270.30,169.72 271.30,169.97 272.30,170.22 273.30,170.48 274.30,170.73 275.30,170.98 276.30,171.23 277.30,171.48 278.30,171.73 279.30,171.98 280.30,172.22 281.30,172.47 282.30,172.71 283.30,172.96 284.30,173.20 285.30,173.44 286.30,173.68 287.30,173.92 288.30,174.16 289.30,174.40 290.30,174.64 291.30,174.87 292.30,175.11 293.30,175.34 294.30,175.58 295.30,175.81 296.30,176.04 297.30,176.27 298.30,176.50 299.30,176.73 300.30,176.95 301.30,177.18 302.30,177.41 303.30,177.63 304.30,177.85 305.30,178.08 306.30,178.30 307.30,178.52 308.30,178.74 309.30,178.96 310.30,179.18 311.30,179.40 312.30,179.62 313.30,179.83 314.30,180.05 315.30,180.27 316.30,180.48 317.30,180.69 318.30,180.91 319.30,181.12 320.30,181.33 321.30,181.54 322.30,181.75 323.30,181.96 324.30,182.17 325.30,182.38 326.30,182.58 327.30,182.79 328.30,182.99 329.30,183.20 330.30,183.40 331.30,183.61 332.30,183.81 333.30,184.01 334.30,184.21 335.30,184.41 336.30,184.61 337.30,184.81 338.30,185.01 339.30,185.20 340.30,185.40 341.30,185.60 342.30,185.79 343.30,185.99 344.30,186.18 345.30,186.37 346.30,186.56 347.30,186.75 348.30,186.94 349.30,187.13 350.30,187.31 351.30,187.49 352.30,187.67 353.30,187.85 354.30,188.03 355.30,188.21 356.30,188.38 357.30,188.56 358.30,188.73 359.30,188.91 360.30,189.08 361.30,189.25 362.30,189.43 363.30,189.60 364.30,189.77 365.30,189.94 366.30,190.11 367.30,190.28 368.30,190.45 369.30,190.62 370.30,190.79 371.30,190.96 372.30,191.13 373.30,191.30 374.30,191.48 375.30,191.65 376.30,191.82 377.30,192.00 378.30,192.17 379.30,192.35 380.30,192.52 381.30,192.70 382.30,192.88 383.30,193.06 384.30,193.24 385.30,193.43 386.30,193.61 387.30,193.80 388.30,193.99 389.30,194.18 390.30,194.37 391.30,194.56 392.30,194.76 393.30,194.96 394.30,195.16 395.30,195.36 396.30,195.56 397.30,195.76 398.30,195.97 399.30,196.18 400.30,196.38 401.30,196.59 402.30,196.80 403.30,197.02 404.30,197.23 405.30,197.45 406.30,197.66 407.30,197.88 408.30,198.10 409.30,198.32 410.30,198.54 411.30,198.77 412.30,198.99 413.30,199.21 414.30,199.44 415.30,199.67 416.30,199.90 417.30,200.13 418.30,200.36 419.30,200.59 420.30,200.82 421.30,201.05 422.30,201.29 423.30,201.53 424.30,201.76 425.30,202.00 426.30,202.24 427.30,202.49 428.30,202.73 429.30,202.98 430.30,203.22 431.30,203.47 432.30,203.73 433.30,203.98 434.30,204.24 435.30,204.50 436.30,204.76 437.30,205.02 438.30,205.29 439.30,205.55 440.30,205.82 441.30,206.09 442.30,206.35 443.30,206.61 444.30,206.88 445.30,207.14 446.30,207.42 447.30,207.69 448.30,207.97 449.30,208.26 450.30,208.55 451.30,208.85 452.30,209.17 453.30,209.49 454.30,209.83 455.30,210.17 456.30,210.54 457.30,210.92 458.30,211.33 459.30,211.79 460.30,212.28 461.30,212.79 462.30,213.31 463.30,213.83 464.30,214.36 465.00,214.72 465.25,214.85 465.30,214.88 465.50,214.98 465.75,215.11 466.00,215.24 466.25,215.37 466.30,215.40 466.50,215.51 466.75,215.64 467.00,215.77 467.25,215.91 467.30,215.94 467.50,216.04 467.75,216.18 468.00,216.32 468.25,216.46 468.30,216.49 468.50,216.60 468.75,216.74 469.00,216.89 469.25,217.03 469.30,217.06 469.50,217.18 469.75,217.33 470.00,217.48 470.25,217.63 470.30,217.66 470.50,217.78 470.75,217.94 471.00,218.10 471.25,218.26 471.30,218.30 471.50,218.43 471.75,218.61 472.00,218.78 472.25,218.97 472.30,219.00 472.50,219.15 472.75,219.34 473.00,219.52 473.10,219.60 473.10,224.60 473.00,224.57 472.75,224.49 472.50,224.42 472.30,224.36 472.25,224.34 472.00,224.26 471.75,224.19 471.50,224.12 471.30,224.06 471.25,224.04 471.00,223.97 470.75,223.89 470.50,223.82 470.30,223.76 470.25,223.75 470.00,223.68 469.75,223.61 469.50,223.54 469.30,223.48 469.25,223.47 469.00,223.40 468.75,223.33 468.50,223.26 468.30,223.20 468.25,223.19 468.00,223.12 467.75,223.05 467.50,222.99 467.30,222.93 467.25,222.92 467.00,222.85 466.75,222.79 466.50,222.72 466.30,222.67 466.25,222.66 466.00,222.59 465.75,222.53 465.50,222.47 465.30,222.42 465.25,222.41 465.00,222.34 464.30,222.17 463.30,221.93 462.30,221.70 461.30,221.48 460.30,221.27 459.30,221.06 458.30,220.86 457.30,220.66 456.30,220.46 455.30,220.28 454.30,220.09 453.30,219.91 452.30,219.73 451.30,219.55 450.30,219.38 449.30,219.21 448.30,219.04 447.30,218.87 446.30,218.70 445.30,218.53 444.30,218.37 443.30,218.20 442.30,218.04 441.30,217.87 440.30,217.70 439.30,217.53 438.30,217.36 437.30,217.19 436.30,217.02 435.30,216.85 434.30,216.68 433.30,216.51 432.30,216.34 431.30,216.17 430.30,216.00 429.30,215.83 428.30,215.66 427.30,215.49 426.30,215.32 425.30,215.15 424.30,214.98 423.30,214.82 422.30,214.65 421.30,214.49 420.30,214.33 419.30,214.17 418.30,214.01 417.30,213.85 416.30,213.70 415.30,213.55 414.30,213.39 413.30,213.25 412.30,213.10 411.30,212.95 410.30,212.81 409.30,212.67 408.30,212.53 407.30,212.39 406.30,212.25 405.30,212.11 404.30,211.97 403.30,211.84 402.30,211.70 401.30,211.57 400.30,211.43 399.30,211.30 398.30,211.16 397.30,211.03 396.30,210.89 395.30,210.75 394.30,210.62 393.30,210.48 392.30,210.34 391.30,210.20 390.30,210.06 389.30,209.93 388.30,209.79 387.30,209.65 386.30,209.51 385.30,209.37 384.30,209.24 383.30,209.10 382.30,208.96 381.30,208.82 380.30,208.69 379.30,208.55 378.30,208.41 377.30,208.28 376.30,208.14 375.30,208.00 374.30,207.87 373.30,207.73 372.30,207.59 371.30,207.46 370.30,207.32 369.30,207.18 368.30,207.04 367.30,206.91 366.30,206.77 365.30,206.63 364.30,206.49 363.30,206.36 362.30,206.22 361.30,206.08 360.30,205.94 359.30,205.80 358.30,205.66 357.30,205.52 356.30,205.39 355.30,205.25 354.30,205.11 353.30,204.97 352.30,204.82 351.30,204.68 350.30,204.54 349.30,204.40 348.30,204.26 347.30,204.12 346.30,203.97 345.30,203.83 344.30,203.69 343.30,203.54 342.30,203.40 341.30,203.25 340.30,203.11 339.30,202.97 338.30,202.83 337.30,202.68 336.30,202.54 335.30,202.40 334.30,202.25 333.30,202.11 332.30,201.97 331.30,201.83 330.30,201.68 329.30,201.54 328.30,201.40 327.30,201.25 326.30,201.11 325.30,200.96 324.30,200.82 323.30,200.67 322.30,200.53 321.30,200.38 320.30,200.23 319.30,200.09 318.30,199.94 317.30,199.79 316.30,199.64 315.30,199.49 314.30,199.34 313.30,199.19 312.30,199.04 311.30,198.89 310.30,198.73 309.30,198.58 308.30,198.43 307.30,198.27 306.30,198.11 305.30,197.95 304.30,197.80 303.30,197.64 302.30,197.47 301.30,197.31 300.30,197.15 299.30,196.98 298.30,196.82 297.30,196.65 296.30,196.48 295.30,196.31 294.30,196.14 293.30,195.96 292.30,195.78 291.30,195.60 290.30,195.42 289.30,195.24 288.30,195.05 287.30,194.85 286.30,194.66 285.30,194.46 284.30,194.26 283.30,194.05 282.30,193.85 281.30,193.64 280.30,193.43 279.30,193.21 278.30,193.00 277.30,192.78 276.30,192.56 275.30,192.33 274.30,192.11 273.30,191.88 272.30,191.66 271.30,191.43 270.30,191.20 269.30,190.96 268.30,190.73 267.30,190.49 266.30,190.25 265.30,190.02 264.30,189.78 263.30,189.53 262.30,189.29 261.30,189.05 260.30,188.80 259.30,188.56 258.30,188.31 257.30,188.07 256.30,187.82 255.30,187.57 254.30,187.32 253.30,187.07 253.05,187.01 252.95,186.99 252.30,186.82 251.30,186.58 250.30,186.33 249.30,186.07 248.30,185.82 247.30,185.57 246.30,185.32 245.30,185.07 244.30,184.82 243.30,184.56 242.30,184.31 241.30,184.05 240.30,183.80 239.30,183.54 238.30,183.28 237.30,183.02 236.30,182.76 235.30,182.50 234.30,182.24 233.30,181.98 232.30,181.72 232.05,181.65 231.95,179.13 231.30,178.95 230.30,178.69 229.30,178.42 228.30,178.16 227.30,177.89 226.30,177.62 225.30,177.35 224.30,177.08 223.30,176.81 222.30,176.53 221.30,176.26 220.30,175.98 219.30,175.71 218.30,175.43 217.30,175.15 216.30,174.87 215.30,174.59 214.30,174.30 213.30,174.02 212.30,173.73 211.30,173.44 210.30,173.15 209.30,172.86 208.30,172.57 207.30,172.28 206.30,171.98 205.30,171.69 204.30,171.39 203.30,171.09 202.30,170.79 201.30,170.49 200.30,170.18 199.30,169.88 198.30,169.57 197.30,169.26 196.30,168.95 195.30,168.64 194.30,168.33 193.30,168.02 192.30,167.70 191.30,167.38 190.30,167.06 189.30,166.74 188.30,166.42 187.30,166.10 186.30,165.77 185.30,165.45 184.30,165.12 183.30,164.79 182.30,164.46 181.30,164.13 180.30,163.79 179.30,163.45 178.30,163.12 177.30,162.78 176.30,162.44 175.30,162.09 174.30,161.75 173.30,161.40 172.30,161.05 171.30,160.70 170.30,160.35 169.30,160.00 168.30,159.64 167.30,159.29 166.30,158.93 165.30,158.57 164.30,158.21 163.30,157.84 162.30,157.48 161.30,157.11 160.30,156.74 159.30,156.37 158.30,156.00 157.30,155.62 156.30,155.24 155.30,154.87 154.30,154.49 153.30,154.10 152.30,153.72 151.30,153.33 150.30,152.94 149.30,152.54 148.30,152.15 147.30,151.75 146.30,151.34 145.30,150.94 144.30,150.53 143.30,150.12 142.30,149.71 141.30,149.30 140.30,148.88 139.30,148.46 138.30,148.04 137.30,147.62 136.30,147.19 135.30,146.76 134.30,146.33 133.30,145.90 132.30,145.46 131.30,145.02 130.30,144.58 129.30,144.14 128.30,143.70 127.30,143.25 126.30,142.80 125.30,142.35 124.30,141.90 123.30,141.45 122.30,140.99 121.30,140.53 120.30,140.07 119.30,139.61 118.30,139.15 117.30,138.68 116.30,138.21 115.30,137.74 114.30,137.27 113.30,136.80 111.30,136.80"/></g>
<rect shape-rendering="crispEdges" x="112.4" y="130" width="1.2" height="4.2" fill="#ff0000"/>
<rect shape-rendering="crispEdges" x="112.4" y="146" width="1.2" height="4" fill="#ff0000"/>
</g>
<g stroke="#808080" fill="none">
<line x1="154.64" y1="55.5" x2="154.64" y2="285.6" stroke-width="1.1" stroke-opacity="0.3"/>
<line x1="202.08" y1="55.5" x2="202.08" y2="285.6" stroke-width="1.1" stroke-opacity="0.3"/>
<line x1="249.52" y1="55.5" x2="249.52" y2="285.6" stroke-width="1.1" stroke-opacity="0.3"/>
<line x1="296.96" y1="55.5" x2="296.96" y2="285.6" stroke-width="1.1" stroke-opacity="0.3"/>
<line x1="344.40" y1="55.5" x2="344.40" y2="285.6" stroke-width="1.1" stroke-opacity="0.3"/>
<line x1="391.84" y1="55.5" x2="391.84" y2="285.6" stroke-width="1.1" stroke-opacity="0.3"/>
<line x1="439.28" y1="55.5" x2="439.28" y2="285.6" stroke-width="1.1" stroke-opacity="0.3"/>
<line x1="107.1" y1="222.10" x2="479.7" y2="222.10" stroke-width="1.0" stroke-opacity="0.6"/>
<line x1="107.1" y1="170.40" x2="479.7" y2="170.40" stroke-width="1.0" stroke-opacity="0.6"/>
<line x1="107.1" y1="118.70" x2="479.7" y2="118.70" stroke-width="1.0" stroke-opacity="0.6"/>
</g>
<g stroke="#6e6e6e" fill="none">
<line x1="107.05" y1="53.95" x2="107.05" y2="287.07" stroke-width="2.1"/>
<line x1="106.00" y1="55.4" x2="480.00" y2="55.4" stroke-width="2.9"/>
<line x1="106.00" y1="285.95" x2="480.00" y2="285.95" stroke-width="2.25"/>
<line x1="479.5" y1="55.4" x2="479.5" y2="285.95" stroke-width="1.0"/>
<line x1="116.69" y1="285.95" x2="116.69" y2="282.0" stroke-width="1.1"/>
<line x1="116.69" y1="55.4" x2="116.69" y2="59.1" stroke-width="1.1"/>
<line x1="126.18" y1="285.95" x2="126.18" y2="282.0" stroke-width="1.1"/>
<line x1="126.18" y1="55.4" x2="126.18" y2="59.1" stroke-width="1.1"/>
<line x1="135.66" y1="285.95" x2="135.66" y2="282.0" stroke-width="1.1"/>
<line x1="135.66" y1="55.4" x2="135.66" y2="59.1" stroke-width="1.1"/>
<line x1="145.15" y1="285.95" x2="145.15" y2="282.0" stroke-width="1.1"/>
<line x1="145.15" y1="55.4" x2="145.15" y2="59.1" stroke-width="1.1"/>
<line x1="154.64" y1="285.95" x2="154.64" y2="280.8" stroke-width="2"/>
<line x1="154.64" y1="55.4" x2="154.64" y2="59.8" stroke-width="2"/>
<line x1="164.13" y1="285.95" x2="164.13" y2="282.0" stroke-width="1.1"/>
<line x1="164.13" y1="55.4" x2="164.13" y2="59.1" stroke-width="1.1"/>
<line x1="173.62" y1="285.95" x2="173.62" y2="282.0" stroke-width="1.1"/>
<line x1="173.62" y1="55.4" x2="173.62" y2="59.1" stroke-width="1.1"/>
<line x1="183.10" y1="285.95" x2="183.10" y2="282.0" stroke-width="1.1"/>
<line x1="183.10" y1="55.4" x2="183.10" y2="59.1" stroke-width="1.1"/>
<line x1="192.59" y1="285.95" x2="192.59" y2="282.0" stroke-width="1.1"/>
<line x1="192.59" y1="55.4" x2="192.59" y2="59.1" stroke-width="1.1"/>
<line x1="202.08" y1="285.95" x2="202.08" y2="280.8" stroke-width="2"/>
<line x1="202.08" y1="55.4" x2="202.08" y2="59.8" stroke-width="2"/>
<line x1="211.57" y1="285.95" x2="211.57" y2="282.0" stroke-width="1.1"/>
<line x1="211.57" y1="55.4" x2="211.57" y2="59.1" stroke-width="1.1"/>
<line x1="221.06" y1="285.95" x2="221.06" y2="282.0" stroke-width="1.1"/>
<line x1="221.06" y1="55.4" x2="221.06" y2="59.1" stroke-width="1.1"/>
<line x1="230.54" y1="285.95" x2="230.54" y2="282.0" stroke-width="1.1"/>
<line x1="230.54" y1="55.4" x2="230.54" y2="59.1" stroke-width="1.1"/>
<line x1="240.03" y1="285.95" x2="240.03" y2="282.0" stroke-width="1.1"/>
<line x1="240.03" y1="55.4" x2="240.03" y2="59.1" stroke-width="1.1"/>
<line x1="249.52" y1="285.95" x2="249.52" y2="280.8" stroke-width="2"/>
<line x1="249.52" y1="55.4" x2="249.52" y2="59.8" stroke-width="2"/>
<line x1="259.01" y1="285.95" x2="259.01" y2="282.0" stroke-width="1.1"/>
<line x1="259.01" y1="55.4" x2="259.01" y2="59.1" stroke-width="1.1"/>
<line x1="268.50" y1="285.95" x2="268.50" y2="282.0" stroke-width="1.1"/>
<line x1="268.50" y1="55.4" x2="268.50" y2="59.1" stroke-width="1.1"/>
<line x1="277.98" y1="285.95" x2="277.98" y2="282.0" stroke-width="1.1"/>
<line x1="277.98" y1="55.4" x2="277.98" y2="59.1" stroke-width="1.1"/>
<line x1="287.47" y1="285.95" x2="287.47" y2="282.0" stroke-width="1.1"/>
<line x1="287.47" y1="55.4" x2="287.47" y2="59.1" stroke-width="1.1"/>
<line x1="296.96" y1="285.95" x2="296.96" y2="280.8" stroke-width="2"/>
<line x1="296.96" y1="55.4" x2="296.96" y2="59.8" stroke-width="2"/>
<line x1="306.45" y1="285.95" x2="306.45" y2="282.0" stroke-width="1.1"/>
<line x1="306.45" y1="55.4" x2="306.45" y2="59.1" stroke-width="1.1"/>
<line x1="315.94" y1="285.95" x2="315.94" y2="282.0" stroke-width="1.1"/>
<line x1="315.94" y1="55.4" x2="315.94" y2="59.1" stroke-width="1.1"/>
<line x1="325.42" y1="285.95" x2="325.42" y2="282.0" stroke-width="1.1"/>
<line x1="325.42" y1="55.4" x2="325.42" y2="59.1" stroke-width="1.1"/>
<line x1="334.91" y1="285.95" x2="334.91" y2="282.0" stroke-width="1.1"/>
<line x1="334.91" y1="55.4" x2="334.91" y2="59.1" stroke-width="1.1"/>
<line x1="344.40" y1="285.95" x2="344.40" y2="280.8" stroke-width="2"/>
<line x1="344.40" y1="55.4" x2="344.40" y2="59.8" stroke-width="2"/>
<line x1="353.89" y1="285.95" x2="353.89" y2="282.0" stroke-width="1.1"/>
<line x1="353.89" y1="55.4" x2="353.89" y2="59.1" stroke-width="1.1"/>
<line x1="363.38" y1="285.95" x2="363.38" y2="282.0" stroke-width="1.1"/>
<line x1="363.38" y1="55.4" x2="363.38" y2="59.1" stroke-width="1.1"/>
<line x1="372.86" y1="285.95" x2="372.86" y2="282.0" stroke-width="1.1"/>
<line x1="372.86" y1="55.4" x2="372.86" y2="59.1" stroke-width="1.1"/>
<line x1="382.35" y1="285.95" x2="382.35" y2="282.0" stroke-width="1.1"/>
<line x1="382.35" y1="55.4" x2="382.35" y2="59.1" stroke-width="1.1"/>
<line x1="391.84" y1="285.95" x2="391.84" y2="280.8" stroke-width="2"/>
<line x1="391.84" y1="55.4" x2="391.84" y2="59.8" stroke-width="2"/>
<line x1="401.33" y1="285.95" x2="401.33" y2="282.0" stroke-width="1.1"/>
<line x1="401.33" y1="55.4" x2="401.33" y2="59.1" stroke-width="1.1"/>
<line x1="410.82" y1="285.95" x2="410.82" y2="282.0" stroke-width="1.1"/>
<line x1="410.82" y1="55.4" x2="410.82" y2="59.1" stroke-width="1.1"/>
<line x1="420.30" y1="285.95" x2="420.30" y2="282.0" stroke-width="1.1"/>
<line x1="420.30" y1="55.4" x2="420.30" y2="59.1" stroke-width="1.1"/>
<line x1="429.79" y1="285.95" x2="429.79" y2="282.0" stroke-width="1.1"/>
<line x1="429.79" y1="55.4" x2="429.79" y2="59.1" stroke-width="1.1"/>
<line x1="439.28" y1="285.95" x2="439.28" y2="280.8" stroke-width="2"/>
<line x1="439.28" y1="55.4" x2="439.28" y2="59.8" stroke-width="2"/>
<line x1="448.77" y1="285.95" x2="448.77" y2="282.0" stroke-width="1.1"/>
<line x1="448.77" y1="55.4" x2="448.77" y2="59.1" stroke-width="1.1"/>
<line x1="458.26" y1="285.95" x2="458.26" y2="282.0" stroke-width="1.1"/>
<line x1="458.26" y1="55.4" x2="458.26" y2="59.1" stroke-width="1.1"/>
<line x1="467.74" y1="285.95" x2="467.74" y2="282.0" stroke-width="1.1"/>
<line x1="467.74" y1="55.4" x2="467.74" y2="59.1" stroke-width="1.1"/>
<line x1="477.23" y1="285.95" x2="477.23" y2="282.0" stroke-width="1.1"/>
<line x1="477.23" y1="55.4" x2="477.23" y2="59.1" stroke-width="1.1"/>
<line x1="107.05" y1="273.80" x2="111.8" y2="273.80" stroke-width="2"/>
<line x1="479.5" y1="273.80" x2="473.8" y2="273.80" stroke-width="2"/>
<line x1="107.05" y1="260.88" x2="110.1" y2="260.88" stroke-width="2"/>
<line x1="479.5" y1="260.88" x2="476.0" y2="260.88" stroke-width="2"/>
<line x1="107.05" y1="247.95" x2="110.1" y2="247.95" stroke-width="2"/>
<line x1="479.5" y1="247.95" x2="476.0" y2="247.95" stroke-width="2"/>
<line x1="107.05" y1="235.03" x2="110.1" y2="235.03" stroke-width="2"/>
<line x1="479.5" y1="235.03" x2="476.0" y2="235.03" stroke-width="2"/>
<line x1="107.05" y1="222.10" x2="111.8" y2="222.10" stroke-width="2"/>
<line x1="479.5" y1="222.10" x2="473.8" y2="222.10" stroke-width="2"/>
<line x1="107.05" y1="209.17" x2="110.1" y2="209.17" stroke-width="2"/>
<line x1="479.5" y1="209.17" x2="476.0" y2="209.17" stroke-width="2"/>
<line x1="107.05" y1="196.25" x2="110.1" y2="196.25" stroke-width="2"/>
<line x1="479.5" y1="196.25" x2="476.0" y2="196.25" stroke-width="2"/>
<line x1="107.05" y1="183.32" x2="110.1" y2="183.32" stroke-width="2"/>
<line x1="479.5" y1="183.32" x2="476.0" y2="183.32" stroke-width="2"/>
<line x1="107.05" y1="170.40" x2="111.8" y2="170.40" stroke-width="2"/>
<line x1="479.5" y1="170.40" x2="473.8" y2="170.40" stroke-width="2"/>
<line x1="107.05" y1="157.47" x2="110.1" y2="157.47" stroke-width="2"/>
<line x1="479.5" y1="157.47" x2="476.0" y2="157.47" stroke-width="2"/>
<line x1="107.05" y1="144.55" x2="110.1" y2="144.55" stroke-width="2"/>
<line x1="479.5" y1="144.55" x2="476.0" y2="144.55" stroke-width="2"/>
<line x1="107.05" y1="131.62" x2="110.1" y2="131.62" stroke-width="2"/>
<line x1="479.5" y1="131.62" x2="476.0" y2="131.62" stroke-width="2"/>
<line x1="107.05" y1="118.70" x2="111.8" y2="118.70" stroke-width="2"/>
<line x1="479.5" y1="118.70" x2="473.8" y2="118.70" stroke-width="2"/>
<line x1="107.05" y1="105.77" x2="110.1" y2="105.77" stroke-width="2"/>
<line x1="479.5" y1="105.77" x2="476.0" y2="105.77" stroke-width="2"/>
<line x1="107.05" y1="92.85" x2="110.1" y2="92.85" stroke-width="2"/>
<line x1="479.5" y1="92.85" x2="476.0" y2="92.85" stroke-width="2"/>
<line x1="107.05" y1="79.92" x2="110.1" y2="79.92" stroke-width="2"/>
<line x1="479.5" y1="79.92" x2="476.0" y2="79.92" stroke-width="2"/>
<line x1="107.05" y1="67.00" x2="111.8" y2="67.00" stroke-width="2"/>
<line x1="479.5" y1="67.00" x2="473.8" y2="67.00" stroke-width="2"/>
</g>
</svg>
<div class="t yl" style="left:2.70px;top:52.50px">0.6</div>
<div class="t yl" style="left:2.70px;top:104.20px">0.4</div>
<div class="t yl" style="left:2.70px;top:155.90px">0.2</div>
<div class="t yl" style="left:2.70px;top:207.60px">0.0</div>
<div class="t yl" style="left:2.70px;top:259.30px">0.2</div>
<div class="t xl" style="left:77.20px;top:286.23px">3</div>
<div class="t xl" style="left:124.64px;top:286.23px">4</div>
<div class="t xl" style="left:172.08px;top:286.23px">5</div>
<div class="t xl" style="left:219.52px;top:286.23px">6</div>
<div class="t xl" style="left:266.96px;top:286.23px">7</div>
<div class="t xl" style="left:314.40px;top:286.23px">8</div>
<div class="t xl" style="left:361.84px;top:286.23px">9</div>
<div class="t xl" style="left:409.28px;top:286.23px">10</div>
<div class="t ax" style="left:238.3px;top:327.8px;font-size:25.3px;"><i>q</i></div>
<div class="t ax" style="left:251.3px;top:323.7px;font-size:18.5px;">2</div>
<div class="t ax" style="left:274px;top:327.8px;font-size:25.3px;">[</div>
<div class="t ax" style="left:281.3px;top:327.8px;font-size:25.3px;">GeV</div>
<div class="t ax" style="left:328.9px;top:323.7px;font-size:18.5px;">2</div>
<div class="t ax" style="left:337.8px;top:327.8px;font-size:25.3px;">]</div>
<div style="position:absolute;left:60px;top:272.3px;width:7.7px;height:2.2px;background:#707070"></div>
<div class="t ax" id="ylab" style="left:0;top:0;width:0;height:0;transform:translate(37.3px,198px) rotate(-90deg);transform-origin:0 0;">
<span class="t" style="left:2.0px;top:-22px;font-size:26.5px;font-style:italic;-webkit-text-stroke:0.7px #707070;transform:scaleX(0.84);transform-origin:0 0;">A</span>
<span class="t" style="left:16.5px;top:-8.5px;font-size:16.5px;transform:scaleX(1.1);transform-origin:0 0;">FB</span>
<span class="t" style="left:22.4px;top:-28.2px;font-size:19px;">(</span>
<span class="t" style="left:29.3px;top:-24.4px;font-size:13.6px;font-style:italic;transform:scaleX(1.35);transform-origin:0 0;">D</span>
<span class="t" style="left:41.5px;top:-25.8px;font-size:9px;">*</span>
<span class="t" style="left:45.6px;top:-28.2px;font-size:19px;">)</span>
</div>
<div id="lg" style="position:absolute;left:339.05px;top:8.6px;width:145.95px;height:97px;background:#fff;border-style:solid;border-color:#000;border-width:1px 1px 3.2px 1px;">
<div class="sw" style="top:4.40px;background:#000000;"></div>
<div class="t lg" style="left:26.1px;top:1.50px;"><span style="letter-spacing:-1px">S</span>M</div>
<div class="sw" style="top:23.33px;background:#ff0000;"></div>
<div class="t lg" style="left:26.1px;top:20.43px;">g<span class="s">A</span>=<span class="m">−</span>1<span class="d">.</span>53<span class="m">−</span>1<span class="d">.</span>01<i>i</i></div>
<div class="sw" style="top:42.26px;background:#0000ff;"></div>
<div class="t lg" style="left:26.1px;top:39.36px;">g<span class="s">A</span>= 2<span class="d">.</span>2</div>
<div class="sw" style="top:61.19px;background:#00ffff;"></div>
<div class="t lg" style="left:26.1px;top:58.29px;">g<span class="s">A</span>= <span class="m">−</span>0<span class="d">.</span>2</div>
<div class="sw" style="top:80.12px;background:#00a800;"></div>
<div class="t lg" style="left:26.1px;top:77.22px;">g<span class="s">A</span>= 1<span class="d">.</span>0+1<span class="d">.</span>2<i>i</i></div>
</div>
</div></body></html>
